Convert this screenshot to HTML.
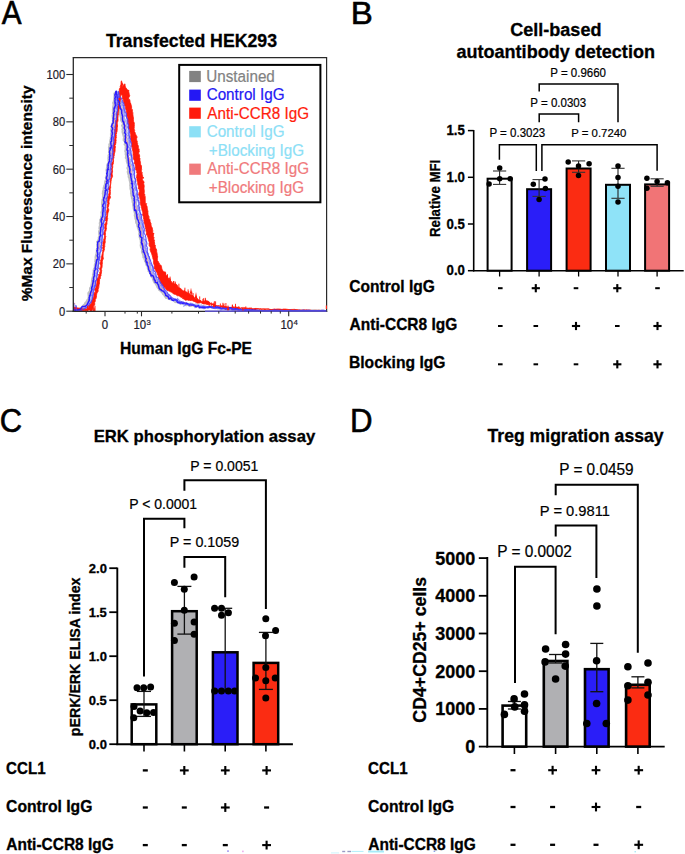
<!DOCTYPE html>
<html><head><meta charset="utf-8"><style>
html,body{margin:0;padding:0;background:#fff;}
body{width:685px;height:854px;overflow:hidden;}
svg{display:block;font-family:"Liberation Sans", sans-serif;}
</style></head><body>
<svg width="685" height="854" viewBox="0 0 685 854">
<rect width="685" height="854" fill="#fff"/>
<text transform="translate(1.84,23.6) scale(0.9166,1.000)" font-size="32.41" font-weight="normal" fill="#000" stroke="#000" stroke-width="0.6">A</text>
<text transform="translate(350.69,23.7) scale(1.0436,1.000)" font-size="31.69" font-weight="normal" fill="#000" stroke="#000" stroke-width="0.6">B</text>
<text transform="translate(-0.27,432) scale(0.9275,1.000)" font-size="33.37" font-weight="normal" fill="#000" stroke="#000" stroke-width="0.6">C</text>
<text transform="translate(349.94,431.5) scale(0.9636,1.000)" font-size="32.41" font-weight="normal" fill="#000" stroke="#000" stroke-width="0.6">D</text>
<text transform="translate(105.9,47.2) scale(1.0000,1.040)" font-size="17.71" font-weight="bold" fill="#000" stroke="#000" stroke-width="0.3">Transfected HEK293</text>
<defs><clipPath id="hc"><rect x="73.3" y="57" width="253.3" height="255"/></clipPath></defs><g clip-path="url(#hc)">
<polyline points="72.5,304.2 72.4,305.5 72.2,305.7 72.7,307.0 72.6,308.1 72.7,309.1 72.7,310.1 73.8,310.2 74.8,310.2 75.8,310.3 76.9,310.3 77.9,309.7 78.7,309.0 80.1,308.5 80.9,308.3 81.9,307.3 82.6,306.3 83.9,305.1 84.5,304.6 85.2,303.5 85.4,302.8 86.0,302.6 86.9,301.2 87.6,299.6 88.3,299.2 88.5,299.0 88.7,297.3 88.8,297.1 88.7,295.7 88.4,293.2 89.3,292.0 89.8,291.3 89.9,291.1 90.0,290.2 90.1,289.4 90.1,288.3 90.5,287.5 91.1,287.0 91.4,284.9 91.6,285.1 91.8,282.6 91.9,282.2 92.1,281.3 92.1,280.2 92.3,278.7 92.6,277.9 92.7,277.1 93.3,275.7 93.0,274.3 93.6,274.2 93.6,272.3 93.9,272.9 93.8,271.4 93.7,270.5 94.0,269.1 94.8,267.8 94.9,266.6 94.8,265.2 95.4,263.4 95.6,263.0 95.9,261.5 95.3,261.2 95.5,261.3 95.5,260.3 95.5,259.7 96.1,257.3 95.6,257.9 95.7,256.7 96.3,254.4 96.6,253.2 96.7,252.6 96.8,251.9 96.9,251.8 97.0,250.0 96.8,249.9 97.5,248.2 97.3,246.9 97.7,245.3 97.4,245.2 97.2,244.5 97.7,243.5 97.2,241.8 97.5,241.7 98.3,240.4 98.7,239.5 98.9,238.2 98.8,237.4 99.3,236.8 99.7,235.2 99.3,234.7 99.2,231.7 99.1,232.0 99.2,231.2 100.1,229.8 99.9,229.6 99.4,228.1 99.6,227.6 99.7,226.5 100.2,225.2 99.8,223.2 99.9,223.0 100.5,221.2 100.3,221.1 100.3,219.5 100.9,219.0 101.2,218.3 101.2,216.6 101.3,216.3 101.9,215.7 101.7,213.0 101.5,212.7 101.7,211.7 102.1,211.2 102.3,209.6 102.3,208.1 102.3,208.0 102.1,206.3 102.8,206.1 102.2,204.9 102.0,204.1 102.2,203.1 102.1,202.4 102.3,201.4 102.5,201.1 102.4,199.9 103.1,198.4 103.0,196.7 103.2,195.4 103.1,194.6 102.8,193.3 103.3,193.1 103.0,191.8 103.6,189.7 103.7,188.3 103.9,187.2 104.6,186.0 104.4,185.6 104.7,185.7 105.3,184.8 105.0,184.2 105.1,182.7 105.4,181.0 106.2,179.7 106.1,178.2 105.9,177.4 106.3,176.9 106.1,176.4 106.7,176.2 106.9,175.3 107.0,174.2 106.9,172.8 106.9,171.6 106.5,170.0 106.8,169.7 106.9,168.4 107.3,166.5 107.2,165.7 107.5,164.4 107.7,164.0 108.2,163.6 108.7,162.2 108.8,161.6 108.5,160.9 108.6,159.5 108.4,158.4 108.7,156.5 108.6,155.3 109.1,154.6 109.5,153.2 109.7,152.5 109.1,152.1 109.2,151.2 109.1,149.3 109.1,148.7 109.0,147.3 109.5,145.9 109.5,144.7 109.4,144.5 110.3,143.2 110.3,141.5 110.2,141.3 110.6,139.9 110.8,138.7 111.1,138.2 110.8,137.5 111.2,136.5 111.1,135.0 111.0,133.9 111.4,132.9 111.6,131.6 111.1,130.8 111.2,129.4 111.4,129.5 111.5,128.2 112.0,126.9 112.5,125.8 113.0,125.2 112.6,124.6 112.6,123.0 112.9,123.1 113.1,121.1 112.9,120.6 113.1,119.8 112.9,118.0 112.8,116.5 112.6,116.0 112.8,115.0 113.1,112.6 113.4,111.0 113.0,111.6 113.0,110.4 112.9,109.5 113.2,109.4 113.1,107.8 113.1,107.2 113.4,105.8 113.7,104.3 113.2,102.9 113.9,101.6 114.0,101.0 114.0,100.1 114.3,99.7 114.4,98.5 114.4,97.4 114.6,95.6 114.6,94.3 114.5,93.5 115.0,92.9 115.6,92.6 115.3,94.1 115.4,94.8 115.6,95.8 115.6,97.0 116.2,97.0 116.5,99.5 117.3,99.6 117.4,100.6 117.2,101.6 117.8,102.7 118.1,104.0 118.2,104.7 118.8,106.0 119.0,106.9 118.9,107.9 119.3,107.8 119.2,109.3 119.3,110.8 120.0,111.5 119.9,112.1 120.1,112.4 119.8,113.7 120.4,115.4 120.7,116.4 121.0,117.4 121.1,118.1 121.2,119.6 121.2,120.6 121.8,121.3 122.8,123.0 123.1,123.2 123.1,123.3 123.0,124.7 122.1,125.4 122.4,126.2 123.1,127.6 122.4,129.3 122.9,130.7 122.6,131.2 122.7,132.6 123.0,133.4 123.4,135.1 123.7,135.9 123.8,136.5 124.2,137.6 124.2,138.1 123.8,138.8 123.8,140.5 124.7,141.2 125.1,140.8 125.1,143.4 124.7,144.4 125.3,144.9 125.8,146.4 125.6,147.8 125.7,148.7 126.0,149.1 125.5,150.1 125.3,151.2 125.8,152.2 125.8,153.7 125.7,154.3 126.2,156.0 126.2,156.1 125.8,158.0 126.0,157.8 126.6,158.8 126.9,159.7 126.8,161.1 127.3,162.6 127.6,163.6 127.9,164.0 128.0,165.3 128.0,165.7 128.1,166.5 127.4,168.1 128.0,169.4 128.3,170.6 127.8,171.7 128.2,171.7 127.8,172.1 128.2,173.7 128.8,175.1 128.7,176.6 129.1,177.9 129.5,177.8 129.6,179.0 129.6,179.9 129.9,181.1 130.3,182.6 130.4,184.1 131.1,183.8 130.2,185.2 130.6,187.1 130.6,187.8 130.4,187.8 130.7,189.7 131.0,189.7 131.1,191.8 131.5,192.9 131.0,193.0 131.3,194.2 131.6,196.1 132.0,197.3 132.0,198.6 132.6,198.6 132.9,199.8 132.6,200.1 132.7,202.0 133.1,203.1 133.5,204.3 133.1,204.8 133.5,206.5 133.7,206.8 133.8,207.7 133.6,207.6 133.7,208.5 134.3,210.5 134.6,211.6 134.8,212.6 135.1,213.7 134.8,215.5 135.3,217.0 135.4,217.5 135.5,218.9 136.2,218.9 136.1,220.4 136.1,221.1 136.2,222.7 136.7,223.3 137.2,224.4 137.3,225.1 137.4,226.0 138.0,227.3 137.9,228.0 138.2,227.8 138.5,229.1 139.1,231.3 139.5,231.4 139.5,232.5 139.3,234.1 139.3,234.8 139.6,233.9 140.1,235.6 139.6,236.9 140.0,237.8 140.4,239.2 140.8,239.7 140.8,241.4 141.0,243.1 140.9,245.4 140.7,245.0 141.0,246.9 141.0,247.3 141.4,247.1 141.7,248.2 142.3,248.9 142.1,250.7 142.0,252.1 142.4,252.9 142.9,253.7 143.0,254.7 143.5,255.7 143.4,257.3 143.9,257.7 144.8,258.5 144.6,259.6 145.1,259.8 145.0,261.3 146.0,261.9 146.0,263.2 146.5,265.0 146.8,265.2 147.5,266.0 147.8,267.1 147.8,267.1 147.9,268.6 148.8,269.7 148.6,271.1 149.7,271.4 149.5,272.2 150.2,272.3 150.5,273.1 150.8,274.6 151.7,276.3 151.7,276.9 152.6,276.4 153.0,278.4 152.8,278.7 153.6,280.7 154.0,281.5 154.6,282.7 155.5,283.0 155.6,283.6 156.0,284.2 157.0,285.8 157.5,287.2 158.3,288.1 158.9,288.2 158.9,289.6 159.6,290.1 160.4,290.7 161.7,291.9 162.0,292.0 162.6,293.0 163.2,294.2 164.2,294.9 164.9,296.4 165.3,296.7 166.1,297.9 166.9,297.7 167.7,296.6 168.4,298.7 169.3,298.9 170.2,299.1 171.1,299.6 172.0,299.2 173.3,300.0 174.2,300.7 175.3,301.9 175.7,302.1 176.5,301.7 177.1,302.2 178.5,302.2 180.1,303.4 180.6,303.1 181.8,302.9 182.9,303.3 184.1,303.9 185.3,303.9 185.7,304.2 186.3,305.2 187.5,304.8 188.1,305.1 189.8,305.9 191.0,305.7 192.0,305.3 193.0,304.7 193.5,305.8 194.9,305.7 195.6,306.0 196.6,306.4 197.8,306.2 198.8,305.9 200.1,306.2 201.1,305.8 201.8,306.6 202.6,306.4 203.4,306.2 204.2,306.5 205.4,307.0 206.6,307.2 207.3,307.2 208.7,306.9 209.5,306.7 210.8,307.0 211.7,307.2 212.8,307.3 213.7,307.9 214.8,308.1 215.7,307.7 217.0,307.7 217.7,308.4 218.8,308.4 219.8,308.2 220.7,307.3 221.6,307.4 222.7,307.8 223.9,308.3 224.8,307.9 225.6,308.7 226.7,308.5 227.8,308.6 229.0,308.7 229.9,308.7 230.8,309.0 231.7,309.1 232.7,309.2 233.6,309.5 234.7,309.3 235.6,309.1 236.5,309.3 237.7,309.4 238.8,309.0 239.6,309.1 240.5,309.4 241.7,309.3 242.8,309.3 243.6,309.4 244.7,309.7 245.8,309.8 246.8,310.0 247.9,309.9 248.7,310.1 249.6,309.9 250.7,309.8 251.6,309.9 252.7,310.1 253.8,310.2 254.7,310.1 255.7,310.5 256.8,310.7 257.7,310.6 258.6,310.7 259.7,310.6 260.8,310.6 261.7,310.5 262.7,310.6 263.7,310.2 264.7,310.5 265.8,310.6 266.8,310.5 267.7,310.5 268.7,310.5 269.7,310.6 270.8,310.5 271.8,310.6 272.8,310.7 273.7,310.6 274.7,310.6 275.7,310.5 276.8,310.6 277.8,310.6 278.8,310.7 279.7,310.8 280.8,310.7 281.7,310.7 282.7,310.7 283.7,310.6 284.7,310.6 285.8,310.6 286.7,310.7 287.7,310.8 288.7,310.6 289.7,310.8 290.8,310.7 291.8,310.8 292.7,310.8 293.7,310.8 294.8,310.7 295.8,310.6 296.8,310.8 297.8,310.7 298.8,310.8 299.7,310.7 300.7,310.6 301.7,310.8 302.7,310.8 303.6,310.7 304.7,310.8 305.7,310.8 306.7,310.9 307.8,310.8 308.6,310.7 309.7,310.6 310.7,310.8 311.7,310.7 312.8,310.7 313.8,310.6 314.7,310.6 315.7,310.7 316.6,310.6 317.7,310.9 318.7,310.6 319.7,310.7 320.7,310.8 321.8,310.8 322.6,310.8 323.7,310.7 324.8,310.7" fill="none" stroke="#c0c0c4" stroke-width="2.2" stroke-linejoin="round" opacity="1.0"/>
<polyline points="72.9,303.7 72.9,304.9 73.4,306.3 73.6,307.1 73.9,308.4 74.2,309.5 74.0,310.4 75.1,310.3 76.1,310.3 77.0,310.3 78.0,310.1 79.0,309.6 80.3,309.1 81.1,308.7 82.4,308.3 83.2,307.1 84.0,306.4 85.0,305.5 85.7,305.0 86.3,303.8 86.6,304.2 87.6,303.2 88.7,302.4 88.8,301.0 89.1,299.7 89.6,299.1 89.7,299.2 89.7,298.4 89.6,297.2 90.8,296.3 90.8,295.3 91.0,293.7 91.0,292.0 91.1,291.2 91.1,290.0 91.7,289.0 92.1,287.4 92.3,285.3 93.0,284.6 92.9,282.6 93.0,283.2 93.3,281.7 93.6,281.6 93.7,281.0 93.6,279.3 93.9,278.3 94.0,277.2 94.0,276.6 94.0,276.0 94.2,273.8 94.7,271.6 94.7,269.1 94.5,269.6 95.1,269.3 95.3,267.6 95.3,266.4 95.3,266.8 95.8,265.5 96.2,264.2 95.9,264.0 96.5,263.3 96.8,261.6 96.7,260.1 96.8,259.4 97.2,258.8 97.1,258.6 96.6,256.6 97.2,255.8 97.3,255.2 97.3,253.6 97.2,253.4 97.0,252.6 97.7,251.0 97.8,250.2 98.3,248.3 98.5,247.5 98.2,246.9 98.1,246.3 98.2,246.0 98.4,243.2 99.1,242.8 98.9,242.5 99.0,241.3 99.2,239.5 99.0,239.0 99.6,236.8 99.8,236.9 100.2,236.0 100.2,235.3 100.1,233.6 100.2,232.3 100.4,231.6 100.4,230.5 100.1,229.0 99.9,228.1 100.7,227.4 101.0,227.4 100.8,225.6 101.7,224.0 101.0,223.3 101.7,222.2 101.9,221.8 101.9,219.2 102.3,219.4 101.9,219.4 102.2,218.7 102.4,216.7 101.7,215.9 102.1,215.5 102.3,213.6 102.6,212.3 102.3,212.3 102.7,212.0 102.4,210.4 102.4,209.1 103.5,208.3 103.0,207.6 102.7,206.4 102.8,205.1 103.4,203.9 103.8,203.3 104.0,201.8 104.1,201.5 104.4,200.6 104.4,200.0 104.1,199.0 104.3,197.2 104.4,196.3 104.3,195.2 104.4,193.9 104.4,192.3 105.0,190.9 105.2,191.1 105.5,189.6 105.7,188.4 105.8,187.3 105.8,186.0 106.1,184.8 106.3,184.5 106.5,183.6 107.2,181.9 106.4,181.2 106.5,180.1 106.8,179.4 106.6,178.4 107.0,177.8 107.9,176.6 108.4,176.0 108.1,174.4 107.7,173.4 108.3,172.5 108.3,171.9 108.2,170.8 108.2,169.6 108.6,167.8 108.4,166.7 107.8,165.9 108.4,166.1 108.8,163.8 109.5,162.4 109.5,161.0 109.5,160.4 109.6,159.7 109.4,158.4 110.1,157.5 109.8,156.2 109.0,156.9 109.5,154.6 110.3,153.9 110.4,153.0 110.4,152.1 110.8,150.6 111.1,149.5 110.7,148.0 110.4,145.5 110.9,146.0 110.7,143.9 110.7,144.0 110.9,143.6 111.0,142.4 111.3,141.5 111.7,140.6 111.3,140.1 112.4,139.2 112.8,138.3 111.8,137.0 111.4,135.5 111.1,134.7 111.7,133.3 112.0,131.6 112.6,131.3 112.6,130.4 112.4,129.7 113.5,128.4 113.4,127.5 113.5,125.7 113.4,125.6 113.2,124.0 113.5,123.3 114.1,121.6 113.9,121.3 114.1,120.5 114.4,119.5 114.0,117.9 114.1,117.3 114.1,115.9 114.3,114.2 114.3,113.9 114.4,112.4 114.6,111.5 114.5,109.5 114.4,109.2 114.6,108.4 114.1,107.5 114.4,106.3 114.6,105.2 114.7,103.6 115.0,103.4 115.0,102.6 114.5,101.1 115.2,100.0 115.2,99.7 115.9,98.2 115.6,97.7 115.4,96.9 115.1,95.4 115.7,93.9 115.9,92.2 116.3,91.9 115.8,92.7 116.4,93.9 116.9,95.0 117.2,95.2 117.4,96.7 117.7,97.8 118.2,98.6 118.3,100.3 118.6,100.9 119.0,101.5 118.9,103.5 119.9,103.8 120.7,104.4 120.2,105.8 120.3,107.4 120.7,107.0 121.1,109.0 121.2,111.0 121.8,112.2 122.0,113.0 121.7,113.1 122.3,114.6 122.5,114.9 123.0,116.6 123.1,117.1 123.4,117.8 124.0,118.5 123.2,119.6 123.6,121.2 124.0,121.9 123.9,123.2 124.1,123.3 124.0,125.5 124.3,126.3 124.5,127.8 124.3,128.6 124.7,130.1 125.0,130.8 125.5,130.9 125.4,133.0 125.2,133.8 125.0,134.2 125.5,134.8 126.2,136.7 125.8,137.4 126.1,138.1 126.4,139.5 126.4,140.1 126.7,141.6 127.2,142.3 127.3,143.5 127.1,145.1 127.9,145.9 127.6,147.3 127.2,148.3 127.1,149.3 127.3,150.2 127.1,151.9 127.3,151.8 127.7,152.8 127.6,153.0 127.4,154.8 127.9,155.8 128.3,157.0 128.7,157.5 128.4,157.8 128.4,159.5 129.0,160.5 129.6,161.4 129.4,162.4 129.2,164.0 129.1,165.2 129.6,165.2 129.8,165.3 129.7,167.4 129.7,167.1 129.9,167.9 130.5,169.5 130.7,171.2 130.6,171.9 130.5,173.6 130.9,174.5 130.7,175.3 130.9,177.5 131.3,177.4 131.5,178.1 131.6,179.9 131.9,181.3 132.1,181.9 132.5,182.5 132.1,182.8 131.8,183.4 132.0,185.0 132.1,186.1 132.4,187.9 132.6,188.6 133.2,190.5 132.9,191.1 132.9,191.0 132.3,192.4 133.1,193.1 132.9,193.9 133.1,195.2 133.6,196.6 134.3,197.2 134.4,198.0 134.7,199.5 134.4,199.6 134.5,201.1 134.7,202.7 135.6,203.1 135.7,204.1 135.8,206.3 135.9,207.0 136.2,208.4 136.4,209.2 136.3,210.3 136.6,210.7 136.6,210.4 136.7,212.7 137.3,213.8 137.2,215.9 137.6,217.3 137.6,217.7 138.1,218.3 138.5,219.9 138.5,220.1 139.0,220.5 138.8,220.7 139.2,222.5 139.3,223.4 139.6,225.4 139.5,226.7 139.7,227.2 140.4,227.8 140.4,228.7 140.3,230.1 141.0,231.2 141.0,233.0 141.0,234.3 141.1,235.2 142.0,234.1 141.9,235.1 141.7,236.5 141.7,237.4 142.0,238.1 142.4,239.0 142.6,240.4 142.8,242.3 142.3,243.4 142.6,243.9 142.9,245.6 143.4,246.4 142.9,246.8 143.2,248.0 143.1,249.2 143.5,249.9 143.5,250.7 144.1,252.0 144.7,253.0 144.7,253.8 145.5,255.3 145.7,256.3 146.1,256.2 146.0,257.6 146.4,258.6 146.8,258.1 146.6,259.7 147.2,260.9 147.5,262.6 148.8,263.8 148.6,264.2 148.5,265.1 149.1,266.0 149.6,266.4 149.6,267.6 149.6,267.9 150.2,269.1 150.6,270.1 151.0,271.9 151.3,272.7 151.9,274.1 151.6,275.2 152.6,275.5 153.7,276.6 154.1,277.4 154.5,278.6 154.9,278.8 155.9,280.6 156.2,280.3 156.9,281.4 157.7,282.8 157.9,282.3 158.3,283.8 158.6,284.8 158.8,286.0 159.4,286.5 159.9,287.3 160.5,289.1 160.8,290.2 161.6,291.0 162.5,291.3 162.8,291.5 163.6,293.1 164.5,294.3 165.8,294.3 166.1,294.8 166.6,295.7 167.1,297.0 168.1,297.9 168.9,299.0 169.9,299.1 170.9,299.6 171.2,298.7 172.2,299.4 173.5,300.0 174.1,300.4 175.4,300.7 176.0,300.9 177.1,301.8 178.3,301.8 179.5,301.8 179.9,301.9 180.7,303.4 181.2,304.0 182.1,303.9 183.6,303.8 184.7,304.6 186.0,304.4 186.8,304.9 187.4,304.5 188.9,303.5 189.4,305.0 190.4,304.3 192.0,304.6 192.6,304.6 193.5,305.3 194.4,305.4 195.4,305.8 196.6,306.0 197.9,306.4 198.4,306.6 199.7,307.1 200.8,307.0 201.8,306.5 202.7,307.1 203.5,307.4 204.7,306.8 205.6,306.4 206.6,306.6 207.6,306.6 208.9,306.9 209.8,307.1 210.5,307.4 212.1,306.4 212.9,307.0 213.7,306.4 214.7,307.0 215.5,307.4 216.7,307.1 217.5,307.7 218.7,307.8 219.4,307.7 220.6,308.0 221.6,308.4 222.6,308.3 223.7,308.6 224.7,308.7 225.7,308.6 226.7,308.5 227.8,308.7 228.8,309.1 229.5,309.1 230.7,309.0 231.6,308.8 232.9,308.4 233.9,308.4 234.8,308.7 235.8,309.0 236.7,309.1 237.7,309.2 238.7,308.9 239.5,309.3 240.6,308.9 241.7,309.1 242.7,309.4 243.7,309.6 244.6,309.4 245.5,309.4 246.7,309.5 247.6,309.9 248.6,309.7 249.6,309.9 250.6,309.9 251.6,310.0 252.6,310.1 253.6,310.3 254.7,310.3 255.7,310.4 256.7,310.5 257.7,310.5 258.6,310.7 259.6,310.6 260.6,310.8 261.7,310.6 262.6,310.6 263.6,310.5 264.6,310.6 265.6,310.5 266.7,310.6 267.6,310.5 268.7,310.7 269.6,310.6 270.7,310.6 271.8,310.8 272.7,310.9 273.8,310.7 274.5,310.7 275.6,310.5 276.7,310.5 277.7,310.5 278.6,310.6 279.7,310.5 280.7,310.4 281.5,310.5 282.6,310.6 283.7,310.7 284.7,310.6 285.6,310.8 286.6,310.7 287.7,310.8 288.6,310.7 289.6,310.7 290.6,310.8 291.6,310.7 292.7,310.8 293.7,310.8 294.6,310.7 295.7,310.7 296.6,310.8 297.7,310.8 298.7,310.7 299.5,310.7 300.6,310.7 301.6,310.9 302.7,310.7 303.7,310.7 304.6,310.7 305.6,310.7 306.7,310.7 307.6,310.7 308.7,310.8 309.6,310.8 310.7,310.7 311.7,310.8 312.7,310.9 313.6,310.7 314.6,310.7 315.6,310.8 316.6,310.9 317.7,310.8 318.6,310.9 319.6,310.6 320.6,310.7 321.6,310.9 322.6,310.9 323.6,310.8 324.6,310.7 325.6,310.9 326.6,310.8" fill="none" stroke="#c8c8cc" stroke-width="1.4" stroke-linejoin="round" opacity="1.0"/>
<polyline points="74.6,303.1 74.6,303.8 74.3,305.9 74.2,306.9 74.2,308.3 74.5,309.3 74.6,310.3 75.6,310.4 76.6,310.3 77.7,310.3 78.5,310.2 79.7,309.9 80.7,308.8 81.8,308.2 82.8,307.8 83.6,306.8 84.0,306.3 85.2,305.4 86.4,304.5 87.4,303.6 87.9,303.5 88.7,303.5 89.3,302.0 89.7,300.5 89.6,299.1 90.1,299.0 90.2,297.8 90.4,295.7 90.7,295.1 91.0,294.7 91.5,294.1 91.7,293.2 91.5,291.7 92.1,291.3 92.4,289.9 92.8,288.8 93.0,287.9 93.0,286.8 93.2,285.7 93.0,284.0 93.4,283.3 93.7,281.5 93.9,279.9 93.9,279.6 94.2,279.1 94.6,277.9 94.5,277.3 95.0,276.1 95.1,275.1 95.4,273.9 95.9,273.2 96.5,272.0 96.3,271.5 95.8,269.8 96.0,268.5 96.1,267.1 96.6,267.0 96.8,266.2 96.8,265.6 96.7,264.9 97.5,262.8 97.0,262.1 97.4,261.2 97.4,260.3 97.2,259.5 97.3,258.0 97.5,257.1 97.9,256.3 97.9,255.0 97.8,254.3 97.9,253.1 97.7,252.8 98.1,251.1 98.2,250.4 98.4,249.3 99.2,248.6 99.5,246.1 99.5,244.8 99.2,244.8 99.3,244.5 100.0,243.0 100.0,241.7 99.7,240.9 99.6,239.0 99.9,238.3 100.3,237.6 100.5,236.9 100.9,235.9 100.7,235.3 100.6,233.7 101.1,233.2 101.1,231.9 101.1,230.6 100.8,230.0 101.6,229.0 101.8,227.5 101.8,226.5 101.5,225.8 102.1,224.6 102.3,223.7 102.0,222.2 102.2,222.2 101.9,220.0 102.5,219.5 102.9,218.3 103.5,217.8 102.7,216.2 103.2,216.1 103.3,215.8 103.4,215.2 103.1,213.3 102.9,211.9 103.3,210.2 103.7,209.0 103.3,208.6 103.5,208.2 103.7,206.8 103.9,205.4 104.2,203.8 104.3,203.8 104.3,203.0 104.7,201.9 104.4,201.3 104.4,200.8 104.0,199.1 104.5,197.7 104.9,196.2 105.1,195.4 104.9,195.1 105.3,193.4 105.4,193.2 105.4,193.3 105.7,191.2 105.7,190.3 106.0,189.6 106.6,187.6 106.0,186.0 106.3,185.7 106.3,184.4 106.5,183.4 106.5,182.3 106.4,182.5 106.3,181.3 106.8,179.4 107.6,178.4 107.5,178.4 107.5,177.6 108.0,176.2 108.2,175.0 108.3,174.1 107.9,173.9 108.2,171.9 108.5,171.8 108.6,171.1 108.5,170.5 108.9,168.9 108.9,167.6 109.1,166.5 109.2,165.6 109.6,164.3 109.2,163.3 109.0,161.9 109.6,160.1 110.2,159.4 110.1,158.2 110.0,157.0 111.1,156.1 110.6,155.5 110.8,154.5 111.3,154.3 111.3,152.7 111.2,151.5 111.1,150.6 111.1,149.3 111.2,148.1 111.4,147.7 111.7,146.9 111.9,146.5 111.4,144.7 111.9,143.8 112.1,142.6 112.3,141.4 111.9,139.5 112.1,138.2 112.4,137.7 112.3,136.6 112.5,136.2 112.2,135.6 112.3,134.0 112.8,131.5 112.9,130.4 113.5,130.2 113.6,130.1 113.2,128.3 113.4,127.5 113.8,125.8 114.1,125.3 113.8,124.0 114.7,122.9 114.3,122.3 114.5,120.8 114.7,119.8 114.2,119.5 114.2,118.3 114.3,118.4 114.3,117.4 113.8,115.7 114.3,113.7 114.3,113.2 114.3,112.3 114.5,111.3 114.5,110.0 114.3,108.5 114.4,107.3 114.7,106.3 115.1,104.0 115.3,104.4 115.4,104.5 115.2,103.4 115.8,102.3 116.0,101.7 116.3,100.6 115.9,98.9 116.1,97.8 116.8,96.7 116.3,94.9 116.2,93.9 116.4,93.6 116.7,93.3 116.0,92.7 116.1,91.4 116.7,92.8 117.7,94.0 118.2,94.8 118.1,95.4 117.8,96.1 118.1,96.3 118.9,97.7 119.3,99.2 119.2,99.6 119.9,101.2 120.0,101.6 120.1,103.5 120.8,104.1 121.3,104.7 121.4,105.4 121.2,106.1 120.8,106.9 121.5,108.4 122.5,109.7 122.9,111.1 122.7,112.3 123.0,113.3 123.8,113.9 123.6,115.6 123.9,115.3 124.1,116.5 124.3,117.9 124.6,119.0 124.5,119.9 124.3,120.9 124.8,122.3 124.4,124.1 124.5,124.5 125.4,125.0 125.6,126.5 125.6,127.4 126.0,128.1 125.9,129.6 125.7,130.5 125.9,130.0 126.0,131.4 126.5,131.6 126.1,133.0 126.2,134.1 126.0,135.7 126.1,136.7 126.5,137.4 127.1,138.2 127.3,139.5 127.0,140.4 127.5,141.6 127.5,142.1 127.6,143.1 127.4,144.0 126.8,145.5 126.8,147.3 127.1,148.6 127.9,148.8 128.0,150.0 128.7,151.8 128.2,151.9 128.5,152.6 128.4,153.5 128.5,154.8 128.3,155.4 128.1,156.9 129.0,157.4 129.4,159.4 129.4,161.0 129.6,161.0 129.4,162.0 130.2,161.9 130.3,164.3 130.4,165.8 130.7,165.9 130.9,167.4 130.7,168.4 130.7,168.2 130.5,169.0 131.0,171.1 131.2,171.7 131.0,172.1 131.2,174.1 132.0,175.9 132.2,175.5 132.3,176.7 132.1,177.9 131.7,178.8 132.7,180.1 132.5,181.2 132.5,181.6 132.7,182.6 132.6,183.3 132.5,183.9 133.0,185.4 133.6,187.2 134.3,187.5 133.8,188.4 133.8,189.4 133.9,190.7 133.9,190.9 134.4,193.1 134.3,193.5 134.8,195.0 135.2,196.6 134.7,198.0 134.8,199.1 134.9,199.5 134.7,199.9 135.0,201.1 135.1,202.3 135.6,202.8 135.6,203.5 136.3,203.5 136.0,205.6 136.3,207.2 136.5,208.0 136.6,208.7 136.4,209.3 136.6,211.2 136.7,212.2 137.2,213.6 137.1,214.0 137.3,214.8 138.3,216.9 138.5,217.2 138.8,218.3 139.2,219.2 139.3,218.6 139.2,220.6 139.4,222.2 139.6,223.7 139.8,224.8 140.3,224.7 140.7,226.6 140.4,227.0 140.6,226.8 141.2,228.0 141.5,229.0 141.4,230.3 141.7,230.9 141.0,233.0 140.9,233.9 142.0,235.3 141.6,236.1 142.1,237.0 142.6,237.7 143.1,238.8 143.5,239.2 143.4,240.1 143.2,241.0 142.8,241.9 143.2,243.9 143.8,244.8 143.8,246.0 144.2,246.9 144.2,247.9 144.0,249.1 144.1,249.8 144.3,251.5 144.8,251.7 145.5,252.1 146.0,253.3 145.3,254.7 145.5,255.3 146.3,256.5 146.9,256.9 147.1,258.2 147.7,259.4 147.9,260.3 147.8,260.7 148.2,263.0 148.4,262.7 148.8,264.3 148.9,264.7 149.3,265.9 149.3,266.7 149.6,267.0 150.4,269.1 150.9,270.4 151.1,271.6 151.7,271.6 151.9,273.4 152.5,274.0 153.3,275.0 153.4,275.3 153.3,275.1 154.1,276.4 154.7,277.3 155.6,278.9 155.9,279.8 156.2,281.2 157.0,282.2 157.8,283.2 158.2,283.7 158.8,284.4 159.4,284.0 159.9,286.1 160.6,287.3 160.4,287.1 161.1,287.9 162.3,288.6 162.7,289.2 163.2,291.2 163.9,291.4 164.9,292.7 165.7,293.8 165.7,294.5 166.9,294.0 167.3,295.4 167.8,297.1 168.6,297.8 169.6,297.5 170.3,298.8 170.9,299.4 172.1,299.0 172.8,299.1 173.5,299.8 174.4,299.5 175.6,299.8 176.7,300.4 177.3,301.0 178.3,302.3 179.8,302.3 180.7,302.3 181.8,302.1 182.4,302.4 183.2,302.4 184.1,303.0 185.5,302.5 186.3,303.1 187.2,303.9 187.7,303.9 188.9,304.3 190.0,305.4 191.2,305.7 191.5,305.5 193.1,305.5 194.0,305.1 195.3,305.6 196.3,305.9 197.4,306.4 198.4,306.6 199.1,306.1 199.7,306.9 200.9,306.7 201.6,306.2 203.2,306.7 204.1,306.6 205.2,306.4 206.1,306.3 207.1,307.0 208.1,307.6 209.1,306.9 210.2,306.0 211.2,306.2 212.0,307.0 213.2,307.0 214.3,307.1 215.2,307.2 216.5,307.8 217.5,307.6 218.3,307.5 219.3,307.5 220.0,307.6 220.9,307.7 221.9,307.8 222.7,308.5 224.1,308.5 225.1,308.4 225.9,308.5 227.3,308.0 228.0,308.2 229.2,308.2 230.2,308.5 231.4,308.6 232.2,308.8 233.2,308.7 234.2,309.0 235.2,309.0 236.2,308.8 237.1,308.6 238.2,308.9 239.3,309.2 240.5,309.2 241.3,309.4 242.2,309.4 243.2,309.3 244.3,309.1 245.3,309.7 246.2,309.9 247.3,309.8 248.2,310.0 249.3,309.8 250.3,310.2 251.3,310.0 252.3,310.0 253.2,310.1 254.2,310.1 255.1,310.2 256.2,310.2 257.2,310.3 258.1,310.4 259.1,310.4 260.2,310.6 261.2,310.2 262.2,310.3 263.3,310.3 264.2,310.5 265.1,310.4 266.1,310.5 267.2,310.6 268.3,310.5 269.2,310.6 270.2,310.7 271.2,310.5 272.1,310.5 273.1,310.5 274.3,310.6 275.3,310.7 276.2,310.7 277.3,310.7 278.2,310.8 279.2,310.6 280.3,310.7 281.2,310.6 282.2,310.7 283.2,310.6 284.2,310.6 285.2,310.7 286.2,310.8 287.2,310.7 288.1,310.4 289.1,310.7 290.2,310.8 291.2,310.7 292.1,310.7 293.2,310.7 294.2,310.5 295.3,310.6 296.3,310.6 297.2,310.6 298.1,310.7 299.1,310.5 300.2,310.8 301.2,310.8 302.1,310.8 303.1,310.8 304.2,310.9 305.2,310.8 306.2,310.7 307.3,310.7 308.2,310.5 309.2,310.8 310.2,310.9 311.2,310.8 312.2,310.8 313.2,310.8 314.1,310.7 315.1,310.8 316.2,310.9 317.1,310.8 318.1,310.8 319.1,310.8 320.1,310.8 321.2,310.7 322.3,310.8 323.3,310.8 324.3,310.9 325.2,310.8 326.2,310.9 327.3,310.9" fill="none" stroke="#f0a0a4" stroke-width="1.2" stroke-linejoin="round" opacity="1.0"/>
<polyline points="74.7,304.4 74.4,304.5 75.3,305.8 75.3,308.5 75.4,308.5 75.5,309.8 75.3,310.6 76.5,310.6 77.5,310.4 78.3,310.4 79.4,309.9 80.5,309.3 81.5,308.8 82.6,309.2 83.4,308.1 84.2,307.6 84.6,306.1 86.4,305.1 87.0,304.3 88.6,303.5 88.7,302.5 88.9,301.9 90.4,299.7 90.8,299.2 90.6,300.2 91.4,297.7 90.9,298.5 89.7,297.1 91.3,295.9 91.2,295.4 92.6,294.4 93.4,292.6 92.6,291.9 92.4,290.2 93.3,289.1 93.4,287.8 94.1,287.0 94.4,286.3 94.9,285.5 95.1,284.8 94.6,283.0 94.7,282.0 94.3,279.4 94.1,279.6 94.5,279.3 94.7,277.9 95.2,276.8 95.5,275.3 95.9,274.1 95.5,273.9 95.8,273.5 95.4,272.7 95.7,272.2 96.0,270.7 96.2,269.2 96.8,267.7 97.2,265.8 97.2,265.7 97.4,264.3 97.1,264.0 97.6,260.6 98.7,259.3 99.3,259.1 98.7,257.7 98.1,257.8 98.3,257.6 98.2,256.0 98.1,254.0 98.9,251.7 99.1,252.9 98.6,252.3 98.6,251.2 99.3,250.0 99.2,249.9 99.5,248.5 100.3,247.2 100.7,246.6 100.6,246.0 99.9,244.9 100.1,243.6 100.3,243.0 100.5,241.8 100.4,241.5 100.3,239.5 100.7,239.3 100.2,237.8 100.9,237.1 100.5,235.3 101.2,233.7 101.0,233.9 100.8,233.5 101.3,233.1 102.0,231.9 102.8,229.3 103.1,227.9 102.5,227.5 102.0,225.5 101.9,224.2 102.7,224.4 102.8,223.5 103.5,223.6 104.1,222.5 104.0,220.4 104.1,219.4 104.5,219.0 103.9,217.7 103.9,216.7 103.0,215.3 103.6,215.2 103.8,213.4 103.6,213.1 104.3,212.5 103.6,211.9 103.7,209.3 103.6,208.6 104.3,207.5 104.5,205.2 104.0,205.5 104.4,205.2 104.6,204.6 105.2,203.1 104.5,202.8 104.8,200.8 104.9,200.2 104.9,200.2 105.8,198.6 105.0,197.6 105.0,196.0 105.8,194.4 106.4,193.5 106.4,193.9 107.2,192.1 107.0,191.6 106.6,188.9 106.6,189.9 106.1,189.0 107.2,188.2 106.8,187.4 107.4,185.7 107.1,184.4 107.8,183.0 108.0,182.4 108.6,182.2 109.2,181.6 108.8,178.6 108.3,176.9 108.4,177.7 108.3,175.6 108.2,174.9 108.3,173.1 108.4,171.8 109.3,170.7 109.6,170.2 109.5,168.6 109.3,167.6 109.6,167.5 109.8,165.8 109.7,165.7 110.1,164.6 110.3,164.9 110.2,163.9 110.5,161.7 110.9,161.0 111.5,160.6 111.4,159.5 111.3,156.7 111.1,155.9 111.4,156.0 111.6,155.3 112.4,154.1 112.5,152.5 111.6,150.9 111.6,149.6 111.3,149.0 112.5,148.2 111.8,147.2 112.3,145.9 112.1,144.4 113.2,143.4 113.1,140.9 113.0,141.3 113.3,140.4 113.1,139.3 112.3,137.6 112.8,136.6 113.8,135.7 113.7,134.4 113.8,134.2 114.0,134.2 113.5,132.9 113.6,132.6 113.6,131.4 113.8,129.4 113.5,128.4 114.3,127.5 114.7,127.2 114.7,126.4 114.8,125.1 115.1,124.5 114.6,123.3 115.3,122.1 116.3,121.1 116.1,120.3 115.4,118.4 116.0,117.8 115.8,115.8 115.5,115.6 115.7,113.5 116.2,113.5 115.9,112.1 115.8,109.8 116.0,109.2 115.1,108.8 115.6,107.9 115.0,105.9 115.3,106.8 115.4,105.8 116.0,104.2 116.1,101.7 116.6,101.1 116.6,101.8 116.6,100.8 116.1,98.7 116.2,97.9 117.0,97.1 116.9,95.7 117.4,94.0 117.6,92.9 117.4,91.8 117.8,91.7 118.1,91.4 118.6,92.7 118.6,93.5 118.5,94.2 119.0,95.0 118.4,96.6 119.1,96.4 119.6,98.0 120.0,99.1 120.6,101.5 120.5,101.9 120.5,101.7 121.4,102.4 121.6,103.8 121.3,104.2 121.5,105.4 122.5,107.0 123.3,108.4 122.8,109.7 123.3,111.0 123.4,112.2 123.8,113.0 124.0,112.0 123.6,112.4 123.4,115.1 124.7,115.8 123.7,118.3 124.3,120.2 125.5,120.8 125.0,119.1 125.4,121.3 125.7,121.0 126.2,122.8 126.5,124.1 126.2,123.2 126.7,124.6 126.6,127.0 126.3,127.8 126.6,129.7 127.0,129.8 127.1,130.8 126.7,131.7 127.4,133.0 126.3,134.4 127.1,135.2 127.9,136.2 128.5,137.4 128.2,138.7 127.9,138.7 127.7,139.1 128.2,140.0 128.4,140.2 128.8,141.3 128.8,143.3 129.6,143.7 128.8,143.9 128.6,145.5 129.0,147.7 129.7,148.8 129.3,150.5 128.4,151.8 128.8,153.2 129.8,152.5 129.8,153.6 129.4,154.6 129.6,154.2 129.8,155.5 131.0,156.1 131.2,159.6 130.5,161.2 130.6,163.3 130.7,163.8 131.3,164.3 131.6,164.9 132.1,165.9 132.2,165.6 132.4,166.8 132.5,168.1 132.3,169.4 132.5,170.1 133.1,173.1 132.7,171.0 132.9,172.9 133.0,173.8 132.6,174.7 131.9,177.2 132.8,177.9 132.5,179.7 133.4,181.5 133.9,181.2 134.3,181.3 134.1,182.3 134.1,181.9 133.6,183.6 133.2,184.5 133.0,184.8 134.3,188.1 134.7,189.0 135.9,190.2 135.6,188.4 135.8,188.0 134.8,190.3 134.7,192.0 134.9,193.1 135.1,195.0 134.5,194.8 135.8,195.4 136.4,197.1 135.7,198.5 135.9,199.3 135.8,200.9 137.2,200.5 136.6,202.6 136.1,204.4 137.5,205.7 137.9,206.3 136.9,206.7 137.8,207.0 137.7,209.3 137.4,210.9 137.7,211.2 137.7,212.8 138.6,213.7 139.3,214.5 138.6,215.0 139.5,214.7 139.5,216.0 139.4,218.1 139.7,219.5 139.9,219.3 141.1,220.7 140.9,222.6 140.4,223.7 140.7,224.5 141.0,225.0 141.4,223.7 142.2,225.9 142.8,226.6 142.1,228.8 142.5,230.6 142.5,231.2 142.1,231.9 142.6,233.8 142.5,234.2 142.6,234.4 142.8,237.2 142.6,237.4 143.3,236.6 143.6,236.9 143.7,239.4 144.1,242.0 144.9,243.6 144.8,243.1 144.1,245.0 144.9,245.8 145.0,246.9 144.9,246.8 145.2,248.7 145.3,250.5 145.1,249.9 145.6,250.2 145.5,250.9 146.7,252.8 146.3,253.8 147.3,254.1 147.9,253.5 148.4,255.5 148.2,256.4 148.1,257.8 148.7,258.5 149.2,259.4 148.6,260.2 149.7,262.5 149.6,264.8 148.7,264.5 149.6,263.2 150.2,264.5 150.4,266.1 150.6,267.3 150.8,268.5 151.7,270.4 151.6,271.7 152.8,272.5 153.0,273.0 152.6,273.4 153.2,274.3 154.1,275.9 155.7,277.7 155.7,278.1 156.4,279.3 156.9,280.0 157.5,279.2 158.5,281.0 158.7,282.5 158.7,283.9 159.1,283.5 159.1,285.3 159.3,285.6 160.5,285.6 160.8,285.9 161.4,286.8 161.1,288.0 162.4,287.1 163.4,287.4 164.9,291.2 164.6,292.0 164.9,292.3 166.1,293.5 167.1,293.7 167.8,294.0 169.0,295.2 169.4,296.1 169.8,295.5 169.9,298.8 171.2,298.1 171.6,299.0 172.9,300.0 173.8,300.3 175.2,300.6 175.5,300.3 176.8,300.7 178.0,301.9 178.9,300.8 179.7,300.5 180.6,301.7 181.4,302.2 181.9,302.2 184.3,304.9 183.7,306.4 184.6,305.1 186.4,303.2 188.1,303.7 188.8,303.9 189.5,304.9 190.4,305.2 192.3,303.9 192.9,304.7 193.0,304.7 194.1,304.8 194.3,304.9 195.5,304.1 196.8,304.2 197.7,304.7 199.0,305.0 200.2,306.2 201.3,305.0 202.4,305.9 203.0,305.9 204.3,306.5 205.1,306.7 206.0,306.6 207.7,307.0 208.2,307.6 209.4,307.7 210.1,307.0 211.6,307.6 212.3,307.8 213.4,308.0 214.3,306.8 215.7,306.7 216.7,307.1 217.6,307.3 218.7,307.4 219.8,307.4 220.7,308.4 221.4,308.6 222.4,308.4 223.3,308.6 224.3,308.5 225.4,308.7 226.4,309.3 227.4,309.1 228.2,308.7 229.2,309.2 230.3,308.3 231.4,308.7 232.8,308.6 233.5,308.7 234.8,309.0 235.5,309.7 236.6,309.2 237.8,309.5 238.5,309.7 239.4,309.6 240.7,309.5 241.6,309.6 242.4,309.8 243.4,309.8 244.4,309.4 245.3,309.5 246.5,309.4 247.2,309.5 248.2,309.4 249.2,309.7 250.1,309.8 251.3,309.9 252.4,310.3 253.5,310.3 254.6,309.9 255.6,310.1 256.5,310.0 257.6,309.6 258.6,309.8 259.5,310.1 260.5,310.2 261.5,310.4 262.6,310.6 263.5,310.8 264.3,310.5 265.4,310.6 266.5,310.6 267.5,310.8 268.4,310.7 269.4,310.4 270.4,310.6 271.5,310.5 272.3,310.6 273.3,310.8 274.3,310.8 275.4,310.5 276.5,310.5 277.5,310.7 278.3,310.9 279.2,310.8 280.3,310.6 281.2,310.7 282.3,310.6 283.4,310.7 284.4,310.6 285.5,310.8 286.5,310.7 287.5,310.7 288.4,310.9 289.4,310.8 290.4,310.7 291.4,310.8 292.3,310.7 293.3,310.7 294.3,310.6 295.3,310.6 296.5,310.8 297.5,310.9 298.5,310.9 299.5,310.8 300.5,310.9 301.4,310.8 302.4,310.7 303.5,310.5 304.3,310.4 305.3,310.6 306.4,310.6 307.3,310.8 308.3,310.5 309.3,310.7 310.4,310.6 311.4,310.6 312.4,310.4 313.3,310.7 314.4,310.7 315.3,310.8 316.2,310.8 317.2,310.7 318.4,310.9 319.5,310.8 320.5,310.9 321.4,310.7 322.4,310.8 323.4,310.7 324.3,310.8 325.3,310.9 326.4,310.9 327.4,310.6 328.4,310.9" fill="none" stroke="#a8b4f4" stroke-width="1.3" stroke-linejoin="round" opacity="1.0"/>
<polyline points="75.4,305.7 75.7,305.9 75.9,307.3 76.1,308.7 76.0,309.9 76.0,310.6 76.2,310.9 77.2,310.9 78.4,310.9 79.4,310.9 80.2,310.9 81.1,310.6 82.3,309.6 83.2,308.9 84.5,309.1 85.3,308.6 86.1,308.3 86.8,307.4 87.7,306.8 88.3,305.8 89.5,304.5 90.1,303.5 90.9,301.3 91.6,301.9 92.2,299.9 92.3,298.8 93.0,299.9 92.6,297.8 92.0,296.2 92.3,294.8 93.1,295.3 93.2,294.3 92.8,291.5 93.2,288.9 93.9,289.7 93.9,289.0 93.6,288.5 92.9,287.5 93.1,286.7 94.7,285.7 94.9,283.9 95.4,282.6 95.3,282.4 95.7,281.0 96.6,280.8 97.2,279.5 96.2,278.4 96.3,278.0 96.7,276.2 97.0,275.7 97.4,274.4 96.4,273.7 97.5,272.6 97.7,270.6 97.5,269.0 97.8,268.1 97.6,268.1 98.0,268.2 98.7,266.2 97.9,265.5 98.7,262.8 99.1,263.1 98.5,261.9 98.6,261.2 98.8,259.7 100.2,256.5 99.2,257.2 99.2,256.0 99.7,255.9 99.3,255.1 99.5,253.4 99.2,254.3 100.2,251.4 101.0,250.6 100.6,250.7 100.2,249.2 100.1,248.2 101.3,247.4 101.6,246.8 101.7,244.8 101.6,243.4 101.1,242.0 102.2,241.7 102.0,239.2 102.2,238.8 101.7,238.0 102.3,237.6 102.0,235.5 101.1,236.0 102.6,236.1 102.9,233.2 102.6,231.4 102.6,231.6 102.6,230.7 102.3,229.2 103.0,228.1 102.5,227.5 103.3,226.4 103.0,226.7 103.1,224.7 102.9,223.9 103.6,220.7 103.2,221.4 103.9,221.0 103.8,220.6 104.3,221.1 104.7,221.1 104.8,218.8 104.4,217.3 105.3,215.2 104.1,213.4 104.3,211.5 104.8,209.3 104.4,209.6 105.1,210.4 104.9,209.5 104.6,207.8 104.9,208.1 105.1,206.2 105.8,205.0 105.9,204.6 105.7,203.5 105.4,201.8 105.8,201.6 107.1,200.3 107.4,200.0 106.5,198.8 107.2,197.4 107.6,196.7 107.2,194.0 107.1,192.5 107.9,191.7 107.7,190.4 107.8,189.2 108.5,189.3 107.7,188.9 107.0,188.8 106.6,186.9 106.5,185.7 107.3,183.2 107.5,182.9 107.5,182.9 108.5,182.1 107.8,181.5 108.4,179.4 109.2,179.0 109.2,177.0 110.0,176.9 109.7,174.9 109.9,174.2 111.0,174.7 109.4,173.9 109.6,172.4 109.7,170.7 109.1,170.7 109.7,169.3 110.4,169.3 110.9,167.5 110.9,166.0 110.8,166.0 110.8,163.6 111.1,163.5 111.3,161.8 111.8,161.6 111.3,159.2 110.9,156.0 111.0,155.4 111.8,155.9 112.2,154.0 113.0,154.3 113.1,154.3 112.6,153.7 113.1,152.5 112.5,149.6 112.6,148.1 112.7,148.6 112.9,147.4 112.6,145.9 112.3,145.4 113.5,145.5 114.4,144.5 113.6,143.6 113.9,141.5 114.3,139.6 113.4,139.0 113.3,139.1 114.4,136.6 114.8,135.0 115.0,135.3 114.2,133.4 114.6,131.8 114.9,132.3 115.3,131.2 114.5,130.2 115.4,129.4 115.8,128.8 116.8,126.9 115.8,127.0 115.7,124.5 116.5,124.7 116.2,121.7 116.0,122.7 116.0,121.4 116.3,120.1 116.9,117.8 116.4,117.0 116.7,118.0 117.2,116.6 117.5,115.9 116.8,115.1 116.0,113.7 117.0,113.1 116.9,111.8 117.3,110.6 117.2,109.7 116.5,106.0 116.2,105.8 116.3,105.2 116.5,103.2 117.4,103.8 117.6,101.4 117.1,101.6 116.1,100.1 117.1,100.7 117.7,97.4 117.7,96.3 117.3,96.2 117.8,96.1 117.4,94.8 117.9,94.0 118.5,92.3 118.1,94.5 118.7,95.4 119.2,96.2 119.6,96.3 119.6,97.1 119.5,97.6 120.0,98.9 120.8,100.5 121.2,101.1 121.8,102.5 123.3,102.8 122.6,103.7 122.4,105.3 123.1,105.3 123.9,106.0 124.4,107.0 123.4,108.8 123.6,110.2 124.6,110.2 124.4,111.4 124.8,113.2 125.0,114.0 124.7,115.7 125.5,115.7 126.3,116.6 126.9,118.1 127.8,117.9 126.8,120.9 127.3,121.8 127.1,123.0 127.3,123.3 127.4,124.1 128.4,124.0 128.0,126.2 127.4,126.7 128.1,128.3 128.6,128.7 128.8,129.2 129.1,131.3 128.6,132.1 128.5,134.2 128.4,135.0 128.5,135.8 129.7,136.8 130.0,136.9 129.2,138.1 128.7,138.2 129.2,139.4 129.0,138.9 129.4,140.9 129.3,143.3 129.3,144.6 129.3,145.6 128.3,146.8 129.6,148.3 129.2,151.0 130.3,151.1 129.3,150.9 129.7,151.9 130.2,151.5 130.5,154.3 130.1,154.0 130.7,155.2 131.6,155.5 131.8,156.1 131.7,159.1 130.9,159.3 131.7,160.3 131.8,160.6 131.8,161.2 132.6,162.9 132.9,163.2 132.4,163.6 132.5,165.7 132.9,165.7 132.9,167.8 132.4,169.1 132.5,170.6 133.5,170.6 134.4,168.2 134.6,171.7 134.6,170.9 133.9,173.7 134.0,175.5 134.3,177.7 134.8,178.3 135.2,179.9 135.7,181.7 135.6,181.5 134.7,181.7 134.3,182.8 134.6,184.7 135.1,185.5 135.4,187.5 135.6,187.6 134.7,188.0 135.5,189.0 136.7,190.4 136.0,189.5 136.9,191.2 137.0,192.5 136.4,194.3 138.0,194.5 136.3,195.8 137.7,197.4 137.8,198.5 136.4,199.5 136.7,199.5 138.3,200.7 138.5,201.2 138.9,202.1 139.0,203.8 138.6,205.3 138.0,206.3 138.4,207.8 138.5,208.8 138.4,210.3 139.6,210.4 139.5,210.5 139.8,212.1 140.2,213.8 140.3,215.7 139.9,215.9 140.5,217.1 140.3,218.9 140.7,219.0 140.3,219.6 141.1,219.9 141.3,222.5 141.6,222.8 142.2,223.3 142.8,224.4 142.5,224.8 142.3,226.7 141.3,227.0 142.3,228.6 142.9,228.9 143.1,230.9 143.7,231.2 143.7,233.2 143.4,232.5 143.4,233.9 143.1,233.8 143.4,235.6 143.7,236.4 143.5,237.7 143.5,239.1 144.9,239.4 145.1,240.2 145.9,241.7 146.2,244.0 145.8,244.2 145.4,245.7 145.1,247.1 145.1,248.2 146.0,248.1 146.1,248.6 145.8,250.2 146.5,251.5 147.5,252.9 147.5,252.8 148.0,253.9 147.5,254.2 148.3,256.3 148.8,256.4 149.0,257.4 149.9,259.3 149.9,260.0 149.7,261.8 149.8,262.4 149.9,263.6 150.8,263.7 151.0,263.7 151.1,265.2 152.0,265.6 152.3,265.8 152.3,267.5 152.7,270.7 152.8,271.0 152.9,270.7 153.6,270.7 153.9,271.0 153.3,272.8 155.2,274.7 155.4,276.9 155.9,276.2 156.5,277.3 156.3,278.0 156.6,278.9 157.2,279.6 157.3,281.0 159.2,281.6 159.4,281.9 160.2,283.1 159.9,284.6 160.6,285.0 161.9,286.5 161.9,286.9 162.9,287.2 163.8,288.1 163.2,288.4 164.3,290.1 165.1,292.1 165.6,292.5 165.9,293.0 167.0,293.9 167.4,293.8 168.1,294.2 168.7,296.5 170.4,297.5 170.8,298.1 170.6,298.5 171.7,299.2 172.5,299.1 173.6,298.8 175.0,299.9 175.4,299.6 177.2,299.3 177.3,298.5 179.1,300.4 178.9,303.0 180.6,304.0 181.2,303.1 182.4,303.2 182.5,302.6 183.9,303.7 185.5,304.5 185.0,305.4 185.9,304.1 187.3,303.8 188.5,303.8 189.3,304.7 190.3,303.2 190.8,304.1 191.6,303.4 193.6,304.5 194.8,306.1 195.1,307.5 196.5,306.5 197.8,306.0 199.0,307.9 199.1,307.8 200.0,307.4 200.4,307.4 202.4,307.9 203.9,308.7 205.1,308.1 205.5,307.0 206.6,306.8 208.1,307.2 208.9,306.6 209.8,307.1 210.6,307.1 212.0,307.5 213.3,307.7 213.7,308.2 214.8,307.9 215.6,308.6 216.6,308.3 217.8,307.8 218.6,308.3 219.7,308.4 220.6,309.9 221.8,309.3 222.3,308.9 223.5,308.2 224.8,308.8 226.0,309.0 226.6,309.3 227.6,309.1 228.0,309.1 229.5,309.5 230.6,309.3 231.5,310.0 232.8,310.4 233.5,310.4 234.5,310.4 235.7,309.9 236.6,310.1 237.3,310.4 238.5,310.4 239.6,310.4 240.4,310.2 241.3,310.7 242.2,310.8 243.5,310.2 244.2,310.6 245.2,310.8 246.5,310.6 247.6,310.5 248.5,310.0 249.7,310.2 250.7,310.4 251.7,310.9 252.6,310.9 253.6,310.8 254.6,310.9 255.5,310.9 256.6,310.9 257.5,310.9 258.4,310.9 259.4,310.9 260.4,310.8 261.4,310.9 262.6,310.9 263.5,310.9 264.6,310.9 265.6,310.9 266.5,310.9 267.6,310.9 268.6,310.9 269.6,310.9 270.4,310.9 271.5,310.9 272.5,310.9 273.5,310.9 274.5,310.9 275.7,310.9 276.5,310.9 277.5,310.9 278.5,310.9 279.4,310.9 280.6,310.9 281.5,310.9 282.5,310.9 283.6,310.9 284.6,310.9 285.6,310.9 286.7,310.9 287.6,310.9 288.6,310.9 289.7,310.9 290.5,310.9 291.5,310.9 292.7,310.9 293.7,310.9 294.6,310.9 295.7,310.9 296.7,310.9 297.6,310.9 298.7,310.9 299.7,310.9 300.7,310.9 301.8,310.9 302.7,310.9 303.7,310.9 304.6,310.9 305.6,310.9 306.6,310.9 307.7,310.9 308.6,310.9 309.6,310.9 310.6,310.9 311.8,310.9 312.8,310.9 313.7,310.9 314.7,310.9 315.7,310.9 316.7,310.9 317.6,310.9 318.5,310.9 319.6,310.9 320.6,310.9 321.5,310.9 322.5,310.9 323.4,310.9 324.6,310.9 325.6,310.9 326.6,310.9 327.7,310.9 328.6,310.9 329.6,310.9" fill="none" stroke="#8f8ff6" stroke-width="1.3" stroke-linejoin="round" opacity="1.0"/>
<polygon points="73.5,307.2 73.9,308.4 74.4,309.3 74.6,310.7 75.6,310.7 76.7,310.6 77.7,310.5 78.7,310.4 79.7,310.5 80.7,310.4 81.8,310.5 82.9,310.5 84.0,310.5 85.0,310.4 86.0,310.4 86.6,309.9 87.2,308.8 87.7,308.0 88.5,307.4 89.1,306.1 89.8,304.8 90.6,304.0 91.0,304.1 91.2,303.2 91.4,301.8 92.5,299.7 92.5,298.9 93.3,297.9 93.7,296.8 93.5,296.3 93.9,295.7 94.0,294.2 94.3,292.6 95.4,292.8 95.2,291.3 95.1,289.0 95.3,290.5 95.0,288.6 95.9,287.3 96.0,286.2 96.2,286.3 96.4,284.7 96.7,283.7 97.1,280.5 96.3,279.6 97.4,278.8 97.7,277.7 98.1,278.4 98.6,277.0 98.8,275.2 98.4,274.4 98.7,274.9 99.9,274.1 99.6,272.3 100.3,272.2 100.2,270.6 99.6,268.8 99.8,267.9 100.7,266.9 100.8,265.0 100.0,264.0 100.2,263.0 100.5,261.7 100.8,261.3 100.3,260.6 101.0,260.1 101.1,258.9 101.4,257.6 101.1,257.3 101.5,256.6 101.9,255.3 102.3,253.6 102.7,251.8 102.7,251.0 102.8,249.8 103.1,250.2 103.2,249.4 102.4,247.7 103.1,246.7 102.6,245.7 103.2,244.8 102.9,244.4 102.9,242.4 103.0,242.6 103.6,240.8 103.8,238.9 104.3,239.0 104.1,237.5 104.5,237.3 104.6,235.6 104.2,235.2 103.7,234.6 104.0,232.6 104.4,231.6 104.9,229.6 105.1,229.0 104.6,228.2 104.9,225.9 104.8,225.0 104.6,224.0 105.3,223.5 105.8,222.4 105.8,222.4 106.5,221.4 105.6,221.0 105.7,219.7 105.4,218.3 105.2,218.4 105.8,217.1 106.8,215.6 106.6,214.7 106.7,214.8 106.7,212.8 106.5,212.8 106.8,210.3 107.2,209.2 107.2,207.9 107.3,207.2 107.1,207.4 107.2,205.0 107.8,203.5 107.5,202.0 107.4,201.6 107.5,200.9 107.9,199.7 107.7,197.9 107.7,196.4 108.8,196.4 109.0,196.7 108.8,196.1 108.6,194.2 109.2,193.1 109.3,191.9 109.3,190.3 108.6,188.8 108.5,187.4 109.4,187.4 109.8,186.1 110.2,185.1 110.4,183.5 110.6,182.7 110.1,181.9 110.2,181.7 110.0,180.8 110.4,180.3 110.7,177.9 111.5,178.4 111.2,177.1 110.7,174.1 111.3,174.1 110.8,174.3 111.1,172.5 111.1,171.5 111.8,170.4 111.5,170.2 111.4,168.3 112.2,167.5 111.8,167.3 111.4,165.1 111.5,163.9 112.0,163.1 112.3,162.0 113.1,162.0 113.0,160.8 112.4,158.4 112.8,158.1 113.0,157.0 113.0,155.8 112.9,155.6 113.1,154.1 113.4,152.5 113.5,151.4 113.0,152.0 112.7,151.7 113.4,151.1 113.2,145.9 113.5,145.0 113.9,145.0 113.7,144.4 113.6,144.2 114.0,142.7 114.3,142.1 114.6,141.6 114.3,140.8 114.6,139.7 114.7,138.3 115.0,136.1 114.9,135.4 114.9,133.9 114.8,133.7 114.8,131.4 115.0,130.4 115.1,130.7 114.4,129.8 115.2,129.4 115.0,126.7 115.4,125.5 115.5,125.7 115.6,124.4 115.6,122.9 116.1,122.1 115.8,121.1 116.2,120.0 116.8,120.0 116.9,118.7 116.7,117.4 116.9,116.2 117.0,114.5 117.0,114.1 117.3,112.9 117.2,112.9 117.5,111.2 117.9,110.2 117.9,109.0 118.1,108.3 117.9,108.2 118.0,106.3 119.1,104.2 118.6,104.2 118.9,103.6 118.4,101.8 118.5,100.7 118.7,100.0 118.6,99.5 118.7,98.1 119.6,97.6 119.5,95.6 119.3,95.3 119.0,94.0 119.1,92.8 119.2,91.3 119.3,90.5 119.4,88.9 119.5,88.6 119.8,88.2 120.3,87.7 120.1,86.9 120.9,84.7 121.0,83.5 121.2,81.2 121.7,81.1 121.6,80.9 121.7,82.2 122.1,82.6 122.6,83.6 123.2,84.8 122.4,85.3 122.7,86.7 123.8,84.9 125.0,83.8 125.1,85.4 125.4,86.8 126.0,88.3 126.2,88.1 126.5,88.5 127.5,90.1 129.0,90.5 128.7,91.7 129.0,92.8 129.2,94.2 129.8,95.9 129.4,96.6 128.6,97.9 128.7,99.2 129.8,99.7 129.9,100.3 130.1,102.1 130.3,104.1 130.1,103.4 130.8,103.5 131.1,104.9 131.4,105.7 131.6,106.8 131.6,108.5 131.9,110.1 132.3,109.6 132.4,111.4 132.8,112.5 132.9,114.2 132.9,114.8 133.1,116.2 133.3,117.6 133.5,117.6 133.3,119.9 133.4,119.8 133.5,121.2 134.4,123.3 134.1,123.1 134.3,125.1 134.3,126.3 134.0,126.4 134.3,126.8 134.0,129.0 134.7,130.3 134.2,131.6 135.0,132.1 135.4,134.0 135.9,134.7 136.2,135.3 136.3,136.1 137.2,136.7 136.6,138.5 136.6,139.3 136.8,140.4 137.4,141.8 137.2,142.6 137.6,143.3 137.5,144.3 138.2,145.5 138.4,147.2 138.2,148.8 139.3,149.1 139.1,149.2 139.0,150.0 139.3,151.8 138.7,152.8 138.8,155.1 139.3,154.6 139.5,156.1 139.7,155.9 139.5,157.5 140.2,159.1 139.9,159.6 140.0,160.8 140.5,162.4 140.5,163.5 140.6,163.9 140.4,164.1 141.5,166.0 141.5,166.9 141.5,169.0 141.7,169.7 141.4,170.6 141.4,171.9 142.0,173.0 142.2,172.6 142.0,174.1 142.7,175.7 142.4,175.9 143.0,177.3 143.5,178.4 143.2,177.0 142.2,179.1 142.9,180.6 143.4,180.9 144.1,182.2 143.7,183.5 143.7,183.8 144.2,185.8 144.1,187.5 144.0,188.9 144.2,189.9 144.3,192.2 144.1,193.2 143.9,194.0 144.7,194.0 144.8,195.4 144.7,196.5 145.4,196.7 145.2,197.2 145.2,199.1 145.3,200.6 145.2,202.2 145.7,203.5 146.8,203.8 146.1,204.8 146.0,205.2 146.8,205.7 147.1,206.7 147.2,208.2 147.5,209.6 147.8,210.8 148.0,211.4 147.9,212.3 148.0,213.6 148.0,214.1 148.1,214.7 148.4,215.4 149.2,217.2 149.0,217.3 148.7,218.1 149.8,219.5 150.1,220.8 150.1,221.7 150.8,223.5 150.6,222.9 151.0,224.2 151.2,226.1 151.5,226.5 152.3,228.0 152.4,229.0 152.6,229.8 152.8,230.5 152.7,232.2 153.4,233.9 153.8,234.2 153.7,233.0 153.4,234.0 153.4,236.6 154.2,237.9 153.8,238.5 153.9,240.0 154.6,240.4 154.3,241.6 154.6,243.0 154.7,244.7 155.4,245.3 155.2,247.0 155.6,247.9 155.8,248.6 156.0,248.6 156.7,250.1 156.6,250.9 156.7,251.9 157.1,253.4 157.3,254.7 156.9,255.0 157.6,255.9 157.6,257.1 157.3,258.9 157.5,259.7 157.4,260.5 158.3,261.5 158.6,262.3 159.2,263.2 159.6,264.2 160.6,265.0 161.1,265.5 161.5,266.4 161.7,268.1 162.2,270.0 162.9,270.5 163.4,271.5 164.1,272.0 165.2,271.8 165.7,274.2 166.0,276.1 166.9,275.6 167.8,277.5 168.7,278.9 169.0,279.8 169.6,280.6 170.1,281.9 170.3,280.7 171.2,281.2 172.4,283.6 172.9,282.5 173.8,284.0 175.0,283.9 175.5,283.9 176.7,284.5 177.8,286.2 178.2,287.4 179.1,287.9 180.1,287.9 181.4,289.2 182.4,290.3 183.7,291.0 184.3,290.8 185.7,292.0 186.8,291.9 187.0,292.7 188.2,293.2 189.6,293.9 190.3,294.5 191.2,294.7 191.9,295.4 192.9,295.7 193.4,296.2 194.2,297.6 195.1,298.2 196.9,298.1 198.3,299.4 198.6,300.0 199.6,300.6 201.0,300.6 201.6,301.6 203.1,301.7 204.4,301.3 205.7,301.6 206.7,300.5 207.4,301.0 209.0,301.6 209.3,302.0 209.5,303.8 210.9,303.1 211.7,303.9 212.7,303.8 214.2,304.0 214.9,305.1 216.1,305.9 217.4,305.7 218.7,305.7 219.2,305.8 220.4,306.3 221.4,305.7 222.0,306.1 222.4,306.0 223.8,306.4 225.0,306.7 226.1,306.6 227.1,306.9 227.9,306.9 228.6,307.1 229.9,307.9 230.9,307.3 231.8,307.7 232.7,307.6 233.6,306.8 234.5,307.2 236.0,307.1 237.0,307.4 238.1,307.2 239.0,307.7 239.7,307.6 240.5,308.2 241.7,307.8 242.8,308.2 243.8,307.9 244.8,308.2 246.0,308.1 247.1,308.1 247.9,308.2 249.3,308.5 250.1,308.6 250.7,308.6 252.1,309.1 252.9,309.0 253.8,309.0 254.9,309.2 256.1,309.2 257.1,309.1 258.3,308.7 259.2,309.3 260.0,308.9 260.9,309.3 261.8,309.3 262.9,309.0 264.0,309.1 265.0,309.4 266.1,309.1 267.2,309.0 268.2,308.8 269.1,309.4 270.1,309.5 271.2,309.8 272.0,309.4 272.9,309.5 273.9,309.6 275.0,309.9 275.9,310.0 276.9,309.9 278.0,309.8 279.1,309.9 280.0,310.0 281.0,310.0 282.0,309.9 282.9,310.1 283.8,310.0 284.9,310.2 285.8,310.2 287.0,310.2 288.2,310.2 289.2,310.2 290.1,310.3 290.9,310.6 291.9,310.4 292.8,310.3 293.9,310.5 295.0,310.5 296.0,310.3 297.1,310.3 298.0,310.5 299.1,310.6 300.0,310.4 301.1,310.5 302.1,310.4 303.0,310.5 304.1,310.2 305.0,310.4 306.0,310.3 307.0,310.4 308.0,310.7 309.0,310.5 310.1,310.4 311.2,310.5 312.1,310.6 313.0,310.7 314.0,310.7 314.9,310.6 316.0,310.6 316.9,310.6 317.9,310.7 318.9,310.8 320.0,310.5 321.0,310.7 321.9,310.7 323.0,310.8 324.0,310.8 325.1,310.8 326.1,310.6 326.0,310.5 325.0,310.5 324.0,310.6 323.0,310.5 322.0,310.5 321.0,310.4 320.0,310.4 319.0,310.3 318.0,310.3 317.0,310.4 316.0,310.3 315.0,310.3 313.9,310.3 313.0,310.4 312.0,310.5 310.9,310.2 310.0,310.1 309.1,310.1 308.0,310.0 306.9,309.9 306.0,309.9 305.0,310.0 303.9,310.0 302.9,310.0 301.9,310.1 301.0,310.1 300.0,309.9 298.9,309.9 297.9,309.7 297.0,309.7 296.0,309.6 295.0,309.5 294.0,309.2 293.1,309.5 292.0,309.4 291.1,309.5 290.2,309.5 289.1,309.6 288.1,309.4 286.9,309.3 286.0,309.1 284.9,309.1 283.8,309.0 282.6,309.3 281.7,309.4 280.8,309.2 279.9,309.1 278.9,309.0 277.9,309.0 276.9,309.0 275.9,309.3 275.0,309.0 274.1,309.0 272.9,309.4 272.1,309.5 271.0,309.5 270.0,309.4 269.0,309.1 268.1,309.2 267.0,309.1 266.0,309.0 265.0,308.9 263.9,308.9 262.9,308.9 261.9,309.0 260.9,308.7 260.0,308.8 258.9,308.9 258.0,308.7 257.1,308.6 256.1,308.4 255.0,308.5 254.1,308.8 253.0,309.0 252.1,308.8 251.1,308.6 250.1,308.5 248.9,308.5 247.8,308.7 246.8,308.4 245.8,308.5 245.0,308.5 244.0,308.2 243.0,308.0 242.2,308.1 241.2,308.1 240.2,308.4 239.2,308.5 238.2,308.2 237.2,308.0 236.2,308.3 235.1,308.5 234.2,308.7 233.1,308.1 232.2,308.1 231.0,308.2 230.1,308.2 228.8,308.1 227.8,307.8 227.1,307.9 226.2,307.5 224.8,307.3 223.8,307.6 222.6,307.3 221.9,307.0 221.1,306.9 219.8,306.5 219.1,305.7 218.1,306.4 216.6,305.8 215.6,305.4 214.7,305.6 214.1,305.6 213.0,305.1 212.2,304.9 210.8,304.1 209.6,304.6 208.8,304.2 208.0,304.1 206.8,304.1 205.8,303.5 205.0,303.6 203.7,303.9 202.8,303.7 201.6,303.1 201.1,302.7 200.0,302.7 199.2,303.1 198.1,303.1 196.8,303.1 196.0,302.2 194.9,301.7 193.9,301.4 193.1,301.0 191.7,300.3 191.1,300.9 189.9,300.2 188.7,300.4 187.7,300.0 186.6,300.1 185.6,300.3 184.4,299.5 183.6,298.9 182.6,298.6 182.3,297.6 181.4,297.5 180.5,296.9 179.7,296.3 178.3,295.7 177.4,295.8 176.4,295.1 175.7,294.6 174.6,294.3 173.6,294.1 172.7,292.9 171.8,292.4 171.2,292.1 169.8,291.5 169.1,291.0 168.2,290.7 167.7,290.6 167.1,290.6 165.9,289.2 165.3,287.7 164.4,287.4 163.7,286.4 162.6,285.4 161.7,284.4 161.5,283.6 160.9,283.3 160.3,282.4 160.3,281.0 159.8,280.1 159.2,279.3 158.6,278.3 158.5,277.9 158.3,276.1 158.1,275.5 157.3,274.2 157.2,273.1 156.8,272.4 155.8,271.2 155.6,269.4 155.3,269.5 154.8,269.0 154.4,269.0 154.2,267.9 154.3,266.9 154.3,265.3 154.1,264.7 153.6,263.4 153.5,262.4 153.7,260.4 153.1,260.0 153.3,259.6 152.8,258.2 152.7,257.3 152.3,255.9 152.1,255.1 151.6,253.7 151.1,252.5 150.8,252.1 150.6,251.5 150.2,250.1 150.0,249.2 150.5,247.9 149.6,246.1 149.0,245.2 149.0,244.9 149.4,244.0 149.0,243.2 149.4,242.3 148.6,240.6 148.6,239.8 148.3,239.1 148.1,237.8 147.6,236.7 147.2,235.1 146.7,235.1 146.3,234.2 146.5,232.8 146.2,231.8 145.9,230.2 146.1,228.1 145.7,228.8 145.6,227.8 145.2,227.2 145.0,225.7 144.8,224.0 144.3,223.1 143.9,222.5 144.2,221.9 143.8,220.7 143.9,219.6 143.4,218.1 143.4,217.6 143.3,216.4 142.9,215.7 142.4,214.4 142.8,213.6 142.8,212.8 142.4,211.3 141.8,209.7 141.9,209.4 141.6,208.3 141.3,207.1 141.2,206.2 140.5,204.1 140.8,203.4 140.5,203.5 140.1,202.6 140.4,201.4 140.1,199.9 140.1,199.1 139.9,198.7 139.7,197.6 139.5,196.7 139.1,195.6 138.7,194.2 138.8,193.9 139.0,192.5 139.5,191.5 139.3,189.4 138.2,188.5 138.4,187.3 138.7,187.1 138.4,186.1 138.0,185.0 137.7,184.2 137.7,182.8 137.5,181.7 137.1,180.8 136.8,179.7 137.0,179.4 136.9,178.2 136.3,177.1 136.7,176.5 136.9,174.8 137.2,173.3 136.6,172.9 136.9,171.9 136.4,170.6 135.8,170.1 135.7,169.0 135.6,168.3 135.5,166.6 135.2,165.2 135.0,164.2 134.8,164.0 134.2,163.4 134.6,161.8 134.4,160.6 134.0,159.9 133.7,159.5 133.5,159.1 133.3,157.2 133.5,156.1 133.0,155.1 133.1,154.0 133.1,152.9 133.0,152.0 132.9,151.1 132.5,150.2 132.4,149.1 132.2,147.0 131.7,146.8 131.6,145.9 131.8,144.7 131.4,143.8 131.4,142.6 131.4,141.8 131.1,140.8 131.1,140.4 130.6,139.1 130.7,137.5 130.8,137.3 130.7,135.8 130.7,134.5 130.4,133.2 130.2,132.6 130.1,132.5 129.8,131.1 129.7,129.7 129.4,129.2 128.9,128.7 128.6,126.9 128.9,125.6 128.8,125.5 128.4,123.9 128.5,123.2 128.1,122.3 127.7,120.5 128.0,119.4 127.6,118.6 127.7,117.7 127.5,117.1 127.0,116.4 126.6,115.2 126.6,113.2 126.4,112.4 126.2,111.2 126.4,110.8 126.0,109.7 125.3,108.5 125.6,107.2 125.5,106.5 125.0,105.7 124.6,105.6 124.3,103.9 124.0,103.4 123.8,102.0 123.3,100.6 123.1,99.9 123.3,99.1 122.3,98.8 122.5,97.2 122.4,95.7 120.9,94.3 120.9,94.8 120.6,96.7 120.8,98.9 120.7,99.4 120.2,100.0 120.1,100.9 120.1,101.6 119.6,103.5 119.5,104.5 119.7,104.9 119.8,105.3 119.7,106.2 119.4,106.1 119.4,108.5 118.9,109.2 118.6,111.2 118.7,112.3 118.1,113.1 118.5,113.6 118.5,114.2 118.1,115.6 118.0,117.1 117.9,118.6 118.0,118.9 118.0,120.2 117.9,121.2 117.6,121.8 117.4,122.2 117.2,123.1 117.4,124.8 117.6,126.0 117.2,127.7 117.2,128.2 117.3,129.2 117.1,130.2 117.2,131.1 116.9,131.8 116.7,132.3 116.5,134.1 116.0,134.7 116.3,135.0 116.2,136.8 116.4,137.9 115.8,138.8 116.2,140.4 115.9,141.2 116.0,142.5 115.8,143.2 115.6,144.4 115.5,145.0 114.9,145.6 115.5,146.8 115.5,147.4 115.1,147.9 115.1,150.1 115.1,151.1 114.7,152.7 114.4,153.8 114.3,154.3 114.4,155.1 114.1,155.9 113.9,156.6 114.0,158.3 113.4,158.8 113.3,160.4 113.6,160.4 113.4,162.2 113.4,162.9 113.2,164.1 112.9,164.6 113.0,165.1 112.4,165.8 112.8,166.7 112.5,168.5 112.3,169.9 112.6,170.9 112.5,172.5 112.1,172.9 112.2,174.3 112.4,175.1 112.6,176.6 112.3,176.8 111.9,177.9 111.3,178.9 111.3,179.7 111.2,180.7 111.0,181.6 110.8,183.4 110.8,183.8 110.6,184.7 110.5,185.7 110.6,186.7 110.7,188.2 109.9,188.9 110.3,189.6 110.4,190.0 110.3,191.7 110.4,193.5 110.3,194.4 110.1,194.9 109.9,195.3 110.5,197.2 110.4,197.9 109.4,199.2 109.2,200.6 108.8,200.8 109.0,202.3 109.2,203.7 108.8,204.7 108.8,204.9 108.3,207.0 108.0,207.5 108.0,208.0 108.4,208.7 108.9,210.0 108.6,210.8 108.1,212.5 107.7,213.9 107.7,214.7 107.6,215.4 107.6,215.9 107.3,217.3 107.7,218.4 107.3,219.8 107.2,220.9 107.1,221.0 106.9,222.1 106.9,223.0 107.0,224.0 106.4,225.1 106.3,226.2 106.2,227.8 106.6,228.1 106.5,228.6 106.1,229.8 106.0,230.8 105.6,231.6 105.3,232.7 105.5,234.2 105.2,235.1 105.3,235.4 105.9,236.8 105.6,237.1 105.3,239.3 105.2,239.9 105.1,240.8 105.3,242.2 104.9,243.2 104.9,244.0 104.7,244.7 104.7,245.6 104.8,246.7 104.5,247.3 104.3,248.7 104.3,250.0 103.9,249.9 104.0,250.9 103.3,252.5 103.2,253.1 103.1,255.2 103.0,255.1 103.0,256.2 103.2,257.4 103.4,258.7 103.1,259.3 102.6,260.0 102.4,261.1 102.2,261.9 102.4,263.0 102.2,264.3 102.1,266.2 102.1,267.0 101.7,268.3 101.3,269.1 101.4,270.1 101.9,270.9 101.4,271.8 101.4,273.1 101.3,273.6 101.0,274.6 101.1,275.5 100.5,276.6 100.2,278.0 100.4,278.7 99.4,278.8 99.6,281.1 99.3,281.9 99.5,283.0 99.2,284.3 99.0,285.2 98.9,286.5 98.5,287.1 98.8,287.5 98.3,288.8 98.0,289.8 98.2,291.1 97.7,292.1 97.0,292.9 96.7,294.1 96.6,295.1 96.5,295.7 96.4,297.0 96.3,297.6 96.0,298.6 95.2,299.7 95.4,300.7 95.0,301.9 94.7,302.3 94.7,305.0 94.0,305.7 93.7,305.8 93.3,306.7 93.0,307.4 92.9,308.7 92.4,309.5 91.9,310.5" fill="#ff1a0a" stroke="#ff1a0a" stroke-width="0.8" stroke-linejoin="round"/>
<line x1="211.3" y1="302.4" x2="211.3" y2="306.4" stroke="#ff1a0a" stroke-width="0.9"/>
<line x1="178.9" y1="283.7" x2="178.9" y2="289.7" stroke="#ff1a0a" stroke-width="0.9"/>
<line x1="165.6" y1="272.6" x2="165.6" y2="277.1" stroke="#ff1a0a" stroke-width="0.9"/>
<line x1="254.8" y1="308.6" x2="254.8" y2="310.8" stroke="#ff1a0a" stroke-width="0.9"/>
<line x1="220.4" y1="303.5" x2="220.4" y2="308.5" stroke="#ff1a0a" stroke-width="0.9"/>
<line x1="169.1" y1="277.8" x2="169.1" y2="281.8" stroke="#ff1a0a" stroke-width="0.9"/>
<line x1="235.3" y1="305.8" x2="235.3" y2="310.1" stroke="#ff1a0a" stroke-width="0.9"/>
<line x1="237.5" y1="307.2" x2="237.5" y2="310.3" stroke="#ff1a0a" stroke-width="0.9"/>
<line x1="188.8" y1="293.3" x2="188.8" y2="296.2" stroke="#ff1a0a" stroke-width="0.9"/>
<line x1="215.6" y1="301.4" x2="215.6" y2="307.6" stroke="#ff1a0a" stroke-width="0.9"/>
<line x1="224.0" y1="303.5" x2="224.0" y2="309.1" stroke="#ff1a0a" stroke-width="0.9"/>
<line x1="203.4" y1="298.2" x2="203.4" y2="303.7" stroke="#ff1a0a" stroke-width="0.9"/>
<line x1="175.2" y1="283.5" x2="175.2" y2="287.1" stroke="#ff1a0a" stroke-width="0.9"/>
<line x1="232.4" y1="304.5" x2="232.4" y2="309.9" stroke="#ff1a0a" stroke-width="0.9"/>
<line x1="207.2" y1="302.2" x2="207.2" y2="305.0" stroke="#ff1a0a" stroke-width="0.9"/>
<line x1="191.7" y1="294.7" x2="191.7" y2="298.0" stroke="#ff1a0a" stroke-width="0.9"/>
<line x1="193.1" y1="293.1" x2="193.1" y2="298.9" stroke="#ff1a0a" stroke-width="0.9"/>
<line x1="184.9" y1="287.7" x2="184.9" y2="293.8" stroke="#ff1a0a" stroke-width="0.9"/>
<line x1="252.9" y1="308.6" x2="252.9" y2="310.8" stroke="#ff1a0a" stroke-width="0.9"/>
<line x1="202.9" y1="299.1" x2="202.9" y2="303.5" stroke="#ff1a0a" stroke-width="0.9"/>
<line x1="167.3" y1="275.4" x2="167.3" y2="279.6" stroke="#ff1a0a" stroke-width="0.9"/>
<line x1="255.6" y1="308.5" x2="255.6" y2="310.8" stroke="#ff1a0a" stroke-width="0.9"/>
<line x1="224.7" y1="306.3" x2="224.7" y2="309.2" stroke="#ff1a0a" stroke-width="0.9"/>
<line x1="222.9" y1="302.8" x2="222.9" y2="308.9" stroke="#ff1a0a" stroke-width="0.9"/>
<line x1="185.3" y1="291.5" x2="185.3" y2="294.0" stroke="#ff1a0a" stroke-width="0.9"/>
<line x1="173.4" y1="281.0" x2="173.4" y2="285.7" stroke="#ff1a0a" stroke-width="0.9"/>
<line x1="166.7" y1="276.0" x2="166.7" y2="278.8" stroke="#ff1a0a" stroke-width="0.9"/>
<line x1="214.7" y1="301.2" x2="214.7" y2="307.4" stroke="#ff1a0a" stroke-width="0.9"/>
<line x1="207.0" y1="300.9" x2="207.0" y2="305.0" stroke="#ff1a0a" stroke-width="0.9"/>
<line x1="228.9" y1="306.7" x2="228.9" y2="309.6" stroke="#ff1a0a" stroke-width="0.9"/>
<line x1="223.0" y1="305.7" x2="223.0" y2="308.9" stroke="#ff1a0a" stroke-width="0.9"/>
<line x1="225.9" y1="303.0" x2="225.9" y2="309.4" stroke="#ff1a0a" stroke-width="0.9"/>
<line x1="170.4" y1="278.6" x2="170.4" y2="283.3" stroke="#ff1a0a" stroke-width="0.9"/>
<line x1="225.6" y1="306.3" x2="225.6" y2="309.4" stroke="#ff1a0a" stroke-width="0.9"/>
<line x1="191.8" y1="291.6" x2="191.8" y2="298.1" stroke="#ff1a0a" stroke-width="0.9"/>
<line x1="264.8" y1="308.9" x2="264.8" y2="310.8" stroke="#ff1a0a" stroke-width="0.9"/>
<line x1="235.5" y1="303.8" x2="235.5" y2="310.1" stroke="#ff1a0a" stroke-width="0.9"/>
<line x1="188.7" y1="291.2" x2="188.7" y2="296.2" stroke="#ff1a0a" stroke-width="0.9"/>
<line x1="169.3" y1="278.1" x2="169.3" y2="282.1" stroke="#ff1a0a" stroke-width="0.9"/>
<line x1="232.4" y1="305.0" x2="232.4" y2="309.9" stroke="#ff1a0a" stroke-width="0.9"/>
<line x1="242.5" y1="307.8" x2="242.5" y2="310.7" stroke="#ff1a0a" stroke-width="0.9"/>
<line x1="199.7" y1="296.4" x2="199.7" y2="302.4" stroke="#ff1a0a" stroke-width="0.9"/>
<line x1="223.4" y1="304.7" x2="223.4" y2="309.0" stroke="#ff1a0a" stroke-width="0.9"/>
<line x1="205.2" y1="297.9" x2="205.2" y2="304.4" stroke="#ff1a0a" stroke-width="0.9"/>
<line x1="222.4" y1="306.3" x2="222.4" y2="308.8" stroke="#ff1a0a" stroke-width="0.9"/>
<line x1="244.9" y1="307.0" x2="244.9" y2="310.8" stroke="#ff1a0a" stroke-width="0.9"/>
<line x1="208.4" y1="302.1" x2="208.4" y2="305.4" stroke="#ff1a0a" stroke-width="0.9"/>
<line x1="209.4" y1="302.0" x2="209.4" y2="305.8" stroke="#ff1a0a" stroke-width="0.9"/>
<line x1="173.9" y1="281.1" x2="173.9" y2="286.1" stroke="#ff1a0a" stroke-width="0.9"/>
<line x1="175.3" y1="281.6" x2="175.3" y2="287.2" stroke="#ff1a0a" stroke-width="0.9"/>
<line x1="167.5" y1="274.2" x2="167.5" y2="279.8" stroke="#ff1a0a" stroke-width="0.9"/>
<line x1="245.8" y1="306.4" x2="245.8" y2="310.8" stroke="#ff1a0a" stroke-width="0.9"/>
<line x1="235.9" y1="306.7" x2="235.9" y2="310.2" stroke="#ff1a0a" stroke-width="0.9"/>
<line x1="238.8" y1="306.2" x2="238.8" y2="310.4" stroke="#ff1a0a" stroke-width="0.9"/>
<line x1="188.1" y1="289.4" x2="188.1" y2="295.8" stroke="#ff1a0a" stroke-width="0.9"/>
<line x1="205.1" y1="300.3" x2="205.1" y2="304.3" stroke="#ff1a0a" stroke-width="0.9"/>
<line x1="251.0" y1="307.2" x2="251.0" y2="310.8" stroke="#ff1a0a" stroke-width="0.9"/>
<line x1="231.8" y1="306.7" x2="231.8" y2="309.8" stroke="#ff1a0a" stroke-width="0.9"/>
<line x1="249.3" y1="307.5" x2="249.3" y2="310.8" stroke="#ff1a0a" stroke-width="0.9"/>
<line x1="170.1" y1="276.6" x2="170.1" y2="283.0" stroke="#ff1a0a" stroke-width="0.9"/>
<polyline points="73.4,302.4 73.4,304.1 73.0,305.7 73.3,306.6 73.5,307.6 73.6,308.9 73.8,310.1 74.8,310.0 76.0,310.2 77.0,310.2 78.0,310.1 78.9,309.5 79.8,309.5 80.6,308.7 82.0,306.9 82.7,306.5 84.1,306.6 85.1,306.3 85.9,305.8 86.5,305.8 87.6,303.6 88.3,302.2 88.3,302.0 89.0,301.0 89.1,299.3 89.4,300.2 89.2,297.4 90.0,295.7 89.6,295.4 90.6,295.1 90.1,294.0 90.7,292.9 90.8,292.1 91.4,290.7 92.0,289.1 91.6,288.4 91.7,287.8 91.8,287.4 92.5,285.7 92.5,285.1 93.0,282.3 93.5,281.8 93.5,280.7 93.0,281.0 93.6,279.7 93.5,278.0 94.0,276.4 94.5,276.0 94.2,274.4 94.4,273.5 94.4,272.1 94.4,270.8 94.9,270.2 95.8,268.8 95.1,268.7 95.9,268.9 95.2,267.8 95.4,267.3 96.0,264.0 96.2,263.4 96.0,264.2 96.3,262.5 96.6,260.4 96.8,259.8 97.9,259.5 97.9,257.9 98.0,257.4 97.2,256.0 97.4,255.1 97.8,254.2 97.6,253.4 97.5,252.5 96.9,250.7 97.6,250.3 97.3,248.7 97.8,248.3 97.8,247.4 97.6,245.9 97.7,244.1 97.7,242.2 98.1,241.7 99.1,241.6 99.1,240.5 99.6,239.9 99.6,239.7 99.4,239.0 99.7,237.2 99.9,236.3 100.7,235.6 100.1,233.4 100.1,233.3 100.6,231.4 100.6,231.5 100.7,229.3 100.6,227.8 101.1,227.1 101.6,225.8 101.7,225.2 101.6,224.6 102.1,223.8 101.5,222.6 101.3,222.0 101.1,221.5 101.1,219.8 102.0,219.8 101.4,218.8 102.3,217.0 102.6,216.6 102.8,214.7 102.7,213.2 102.8,212.4 103.2,210.8 103.0,210.7 103.1,208.8 103.5,208.8 103.4,207.8 103.8,207.8 102.7,206.2 103.1,204.4 104.0,203.7 104.1,202.2 104.1,201.7 103.5,200.3 103.5,199.6 103.8,198.6 103.9,197.5 104.4,197.6 104.5,196.6 104.9,194.6 105.1,194.3 105.1,192.4 105.5,191.6 105.2,190.8 106.3,190.3 106.0,189.3 105.3,188.7 105.6,186.9 105.9,186.6 105.8,185.4 105.9,184.0 107.2,183.1 106.5,181.5 106.9,181.4 107.4,180.2 107.1,179.9 106.3,178.1 107.2,175.6 106.9,173.0 106.7,173.6 107.2,173.3 107.3,171.6 107.3,170.1 107.5,169.2 108.0,168.7 108.4,169.5 108.0,168.7 108.2,167.1 108.0,165.5 108.3,165.5 108.1,164.2 108.6,163.4 108.7,162.7 109.5,161.1 109.6,160.3 109.4,159.8 109.7,158.3 109.5,156.8 110.0,155.7 109.7,155.1 109.8,152.8 109.4,152.1 109.9,150.4 110.3,149.6 110.0,148.0 110.8,148.3 111.1,147.7 111.2,146.6 111.2,145.2 111.0,144.7 110.8,142.9 110.9,141.7 111.5,141.4 111.6,140.8 111.3,138.7 111.8,139.1 111.5,137.8 112.1,136.9 111.8,135.9 112.3,134.1 112.3,132.4 111.9,132.0 111.9,130.5 112.5,129.4 112.5,128.0 111.3,126.3 111.9,125.6 112.1,124.2 112.4,123.9 113.2,122.9 113.2,122.1 113.1,120.6 113.6,119.3 113.7,118.5 113.2,119.1 113.3,117.9 113.5,116.7 113.8,114.3 113.5,113.5 113.5,113.0 113.9,112.2 114.4,111.1 114.1,110.5 114.0,109.0 114.4,107.3 114.7,108.2 115.1,106.2 115.6,105.3 115.3,104.3 114.9,102.8 115.3,102.3 114.9,102.0 115.1,98.8 114.8,98.3 115.2,97.7 115.4,97.2 115.0,95.6 114.9,94.8 115.8,92.9 115.7,92.1 115.7,92.1 116.2,91.2 116.4,92.7 116.5,92.9 116.5,94.3 117.0,95.5 117.0,95.7 117.0,96.7 117.2,97.3 117.5,100.1 118.5,100.7 118.9,101.7 119.3,102.1 119.8,103.7 119.5,103.7 119.0,104.2 119.5,105.3 120.1,106.6 120.3,108.2 120.7,108.5 121.0,109.6 121.6,110.1 121.7,111.9 121.7,113.3 122.1,114.4 122.2,115.3 122.7,116.3 122.5,117.1 122.5,117.8 122.5,119.4 122.9,121.4 123.5,121.5 123.9,122.7 123.5,122.7 124.4,124.4 124.0,124.3 124.7,125.7 124.5,126.9 124.3,127.1 124.3,128.3 125.0,129.7 125.2,130.8 124.5,132.9 125.1,132.9 125.7,134.7 125.5,135.1 125.2,135.9 125.6,137.2 125.2,139.6 125.4,140.4 125.2,142.2 125.0,141.5 125.6,143.0 126.4,142.5 127.1,144.4 127.2,145.2 127.3,147.7 127.5,146.7 127.4,148.1 127.0,148.6 127.1,149.8 126.8,149.9 127.8,150.6 127.5,152.4 128.0,153.2 127.4,153.8 127.5,154.6 127.8,156.3 128.0,157.7 128.2,158.9 128.2,160.1 128.5,161.6 128.4,163.2 128.8,163.0 128.6,165.2 128.6,165.8 129.5,166.5 129.4,167.9 129.8,168.6 129.8,169.7 129.8,168.9 130.0,170.0 129.7,171.4 129.9,172.9 130.4,174.3 131.1,174.0 130.6,174.8 130.8,175.9 131.0,177.7 131.5,180.3 131.4,180.5 131.4,180.4 132.1,181.9 131.9,182.9 131.5,183.7 132.4,183.6 132.3,185.0 132.4,186.7 132.0,187.7 132.7,188.8 132.9,189.2 133.0,190.1 132.9,191.5 132.8,191.9 133.1,192.5 133.2,195.5 133.5,195.9 134.0,196.0 134.4,197.7 134.0,198.8 134.4,199.3 134.1,200.6 134.3,200.5 134.6,202.1 134.4,202.9 134.1,205.1 134.5,206.5 134.5,207.8 134.6,209.6 134.6,210.5 135.5,210.3 135.8,210.1 136.1,211.5 136.1,211.9 136.5,214.1 136.9,214.5 136.7,216.0 137.2,218.0 136.8,217.8 137.5,219.4 137.9,219.9 138.3,220.9 138.4,222.1 139.1,222.9 139.2,223.6 138.6,224.5 138.7,225.1 138.4,226.6 139.5,228.2 139.4,229.4 139.8,230.6 140.4,231.7 140.0,232.5 140.4,232.0 140.5,233.1 140.4,234.6 140.5,235.2 139.9,235.6 140.5,236.8 141.9,237.6 141.6,240.4 141.9,240.4 141.4,242.5 142.4,244.0 142.0,243.8 141.7,243.7 142.6,245.6 142.8,246.2 142.8,246.0 142.9,248.1 142.8,249.2 143.6,250.5 143.2,251.9 143.4,251.2 144.4,253.1 144.9,254.8 145.6,256.0 145.1,256.5 145.5,257.7 146.3,258.6 146.0,259.1 146.0,259.1 145.8,260.4 146.4,262.6 147.1,262.1 147.1,264.6 147.8,266.0 148.2,266.5 148.4,267.4 148.6,268.5 148.6,269.4 149.5,271.3 150.1,271.9 149.9,273.5 149.9,273.0 150.9,274.2 151.1,276.0 151.7,275.4 152.8,275.6 153.5,276.9 153.9,278.0 154.3,280.0 155.2,280.3 155.2,282.3 156.1,282.6 156.7,282.9 157.0,282.9 157.2,282.3 157.6,283.9 158.4,285.2 158.8,286.5 159.1,288.0 159.8,289.1 160.4,289.7 161.0,289.5 161.9,290.8 163.0,291.0 163.5,291.3 164.9,293.1 165.2,293.5 165.5,294.3 165.7,295.3 166.4,295.8 167.5,296.3 168.2,296.9 169.0,298.9 169.8,298.7 170.5,298.1 171.5,298.8 172.3,300.3 173.5,300.6 174.1,299.9 175.6,299.3 176.5,300.8 177.1,300.4 177.7,302.6 179.2,302.7 180.5,302.9 181.3,302.1 182.4,303.4 182.9,303.6 183.6,302.6 185.5,303.6 186.4,303.1 187.7,303.6 188.3,304.5 189.4,304.7 190.4,304.6 191.0,304.9 192.2,305.1 192.9,304.9 193.6,305.1 194.9,305.7 196.0,306.6 196.7,306.7 198.2,305.6 198.9,306.2 199.7,307.6 200.5,307.2 201.6,307.6 202.6,307.6 204.2,307.4 204.8,307.7 206.2,307.4 207.3,307.1 207.8,307.6 209.0,306.8 210.3,306.8 211.1,307.3 211.8,307.0 212.9,307.1 214.3,307.1 214.9,306.3 216.4,307.4 217.4,307.1 218.5,307.3 219.3,307.4 220.1,307.9 220.8,308.3 221.7,308.4 222.5,308.5 223.7,308.6 224.7,308.6 225.7,308.7 227.1,308.4 228.0,308.2 228.9,308.0 230.1,307.6 231.3,308.1 232.1,308.7 233.1,309.0 233.9,309.2 235.3,309.1 236.0,309.1 237.2,309.1 238.0,309.4 239.0,309.8 240.2,309.6 241.0,309.4 241.9,309.8 242.9,310.0 244.0,309.9 245.2,310.5 246.1,310.1 247.0,310.1 248.0,310.3 249.0,310.3 250.0,310.1 251.1,310.4 252.1,310.0 253.0,310.2 253.8,310.3 255.1,310.2 256.0,310.5 257.1,310.5 258.0,310.7 259.1,310.6 260.1,310.7 261.1,310.7 262.1,310.7 263.1,310.8 264.0,310.8 264.8,310.7 265.9,310.8 267.0,310.8 268.0,310.9 269.0,310.7 269.9,310.6 270.9,310.7 271.8,310.8 272.8,310.5 273.8,310.6 274.9,310.3 276.0,310.5 277.0,310.5 278.0,310.5 278.9,310.6 280.0,310.7 281.0,310.6 282.0,310.6 283.0,310.8 284.0,310.8 284.9,310.7 286.0,310.8 287.0,310.8 287.9,310.9 288.9,310.8 290.0,310.6 291.0,310.5 292.0,310.7 293.0,310.8 293.9,310.7 294.9,310.6 295.9,310.7 297.0,310.7 298.1,310.7 299.2,310.6 300.0,310.7 301.2,310.8 302.0,310.6 303.0,310.6 303.9,310.5 305.0,310.7 306.0,310.7 306.9,310.5 308.0,310.7 308.9,310.6 309.9,310.8 311.0,310.8 312.0,310.7 313.0,310.7 314.0,310.7 315.0,310.7 316.0,310.9 317.0,310.7 318.0,310.8 319.0,310.8 320.0,310.8 320.9,310.8 322.0,310.5 323.0,310.6 324.0,310.8 324.9,310.9 326.0,310.8" fill="none" stroke="#2a1cff" stroke-width="1.5" stroke-linejoin="round" opacity="1.0"/>
<polyline points="76.0,305.2 76.0,305.6 76.3,306.5 76.1,307.6 76.3,309.1 76.4,310.0 76.4,310.9 77.5,310.9 78.7,310.9 79.7,310.7 80.6,310.7 81.6,310.1 82.8,309.5 83.9,308.9 84.9,308.3 85.7,307.5 86.8,307.2 87.9,306.1 88.5,305.7 88.9,304.8 89.1,303.9 90.0,303.1 90.7,302.8 91.7,300.8 91.7,300.2 92.2,299.2 92.3,298.3 92.4,297.6 92.8,296.9 92.7,295.9 93.2,294.7 93.2,293.4 93.1,292.2 93.7,291.2 93.8,290.6 93.9,289.1 94.5,287.5 94.9,285.3 95.4,286.2 95.8,285.4 95.6,284.1 95.5,282.7 95.4,282.0 95.5,280.9 96.1,280.1 96.7,279.3 96.8,277.9 96.8,276.8 97.1,275.0 97.3,274.6 97.5,271.8 98.0,271.2 98.2,270.8 97.3,269.7 98.3,268.7 97.8,267.2 97.9,267.7 97.7,267.5 98.1,266.3 98.7,264.3 98.7,262.5 98.7,262.4 98.4,261.2 99.3,260.7 99.2,259.7 99.4,259.0 99.3,257.7 99.4,256.8 99.8,254.9 100.1,253.6 99.8,253.7 99.8,253.0 100.8,251.7 101.0,251.1 101.1,250.1 101.6,248.2 100.8,246.7 101.0,246.2 101.4,244.8 101.7,243.4 101.4,242.7 101.4,242.4 102.0,242.0 102.1,241.0 101.6,240.1 102.0,239.2 102.2,236.8 102.3,235.3 102.2,235.8 102.1,234.7 103.2,233.6 103.0,233.0 103.1,231.6 102.8,230.2 103.4,229.1 103.9,228.0 103.5,227.3 103.3,226.3 103.4,225.4 102.9,224.5 103.7,223.3 103.5,222.3 103.8,221.2 104.4,220.4 104.2,220.1 104.7,219.4 104.9,218.5 105.2,216.9 105.2,215.6 105.6,214.7 105.7,213.6 105.3,212.1 105.4,211.8 105.1,211.3 105.3,209.8 105.4,207.7 105.8,207.2 105.7,206.8 105.6,205.0 105.8,203.6 106.2,202.7 105.9,202.3 106.1,201.1 106.3,199.8 106.2,199.3 106.1,198.2 106.9,198.1 107.1,196.0 107.0,195.0 107.2,193.4 107.4,193.3 107.5,191.6 107.5,191.0 107.4,191.1 107.7,189.8 108.2,189.0 108.6,187.7 108.7,186.3 108.8,186.0 108.6,184.4 108.6,183.1 108.8,182.5 108.5,181.6 108.5,181.0 108.6,179.7 109.2,179.4 109.7,178.8 110.1,176.6 110.0,175.2 110.3,174.6 110.7,173.1 111.1,171.3 110.6,170.5 110.8,169.3 110.9,169.2 110.8,168.1 110.8,167.1 111.2,166.2 110.9,164.7 110.8,164.5 110.9,164.0 111.0,162.8 110.9,161.2 111.7,160.9 111.7,159.2 111.7,158.2 112.9,158.3 112.6,156.5 112.9,155.4 112.7,154.7 112.3,153.3 113.4,151.9 112.8,151.0 112.6,149.7 112.6,148.7 112.7,147.9 113.2,147.0 113.0,145.8 113.4,144.1 113.4,143.0 114.0,143.0 113.8,142.2 113.8,140.6 113.7,139.3 113.6,138.6 113.7,137.3 114.1,136.6 114.6,135.7 114.4,134.2 114.7,133.1 115.2,132.6 115.0,131.2 115.1,130.4 114.9,129.4 115.3,128.2 115.3,127.3 115.4,125.6 115.3,125.0 115.8,124.2 115.8,123.3 115.7,121.2 116.0,120.6 116.5,119.7 116.1,118.8 116.5,117.7 116.9,116.5 116.8,116.6 116.9,115.5 116.6,114.5 117.0,113.3 116.7,112.7 117.4,111.0 117.5,110.2 117.1,108.5 117.6,106.5 117.1,105.6 117.2,105.1 117.5,104.4 117.1,104.2 117.2,102.5 118.0,101.3 117.7,100.4 117.6,99.6 117.7,98.7 118.6,97.4 117.9,96.4 117.5,94.6 118.4,94.0 118.7,93.3 118.2,92.3 118.4,91.6 118.7,92.5 118.9,92.7 119.2,94.9 119.1,96.7 119.7,96.9 120.7,97.7 121.3,98.1 121.7,98.8 121.9,100.1 122.4,100.3 122.5,100.6 122.7,102.0 123.7,103.2 123.9,104.7 123.8,107.0 124.0,108.2 124.3,109.0 124.9,109.1 124.8,110.4 125.1,111.7 125.3,112.6 126.4,113.3 126.2,113.7 126.4,115.3 126.5,116.9 126.8,118.2 127.0,118.9 127.6,118.9 127.9,120.9 127.9,121.8 127.7,123.1 128.0,123.6 128.6,124.7 128.8,125.1 128.6,127.3 128.2,127.4 128.6,128.5 128.8,129.3 129.2,130.0 129.1,131.0 129.5,132.3 129.1,133.8 129.2,134.3 129.2,135.6 129.7,136.7 129.5,137.9 130.0,137.8 130.4,139.2 130.2,140.1 130.4,141.1 130.3,142.2 131.1,142.1 131.1,142.5 131.2,144.7 130.8,146.2 131.0,147.7 130.7,148.9 130.4,150.3 130.8,150.5 131.1,151.1 131.0,152.3 131.1,153.7 131.4,155.1 131.8,155.9 131.5,156.3 131.8,157.2 132.1,158.5 132.2,160.0 132.0,161.0 132.6,162.2 132.8,162.6 133.1,164.0 133.3,165.0 134.0,166.4 134.0,166.7 133.8,167.2 134.1,167.2 134.2,168.3 134.0,170.3 134.3,171.5 134.6,172.3 134.5,173.8 134.1,174.2 134.8,175.9 134.5,176.8 134.7,178.1 135.5,178.9 135.6,179.4 135.3,180.1 135.7,181.3 135.5,182.2 135.7,182.8 135.8,183.7 136.2,185.1 136.0,185.8 136.4,187.4 136.6,188.6 136.9,190.1 137.0,190.2 137.3,191.4 137.2,192.9 137.2,194.0 137.4,194.7 137.9,195.6 137.7,197.2 138.3,197.6 138.3,198.6 137.9,199.7 138.9,200.8 138.8,201.9 139.0,203.3 139.2,204.2 139.0,204.8 138.8,205.7 139.3,207.2 139.7,207.6 139.4,207.0 139.4,208.5 139.9,210.6 139.7,211.2 140.0,212.0 140.5,213.5 140.7,214.5 141.4,214.3 141.7,214.9 141.5,216.8 141.5,218.7 142.0,219.5 141.9,220.3 142.7,221.2 143.1,223.1 143.3,223.6 142.9,224.5 143.6,226.4 143.5,227.6 143.9,227.5 144.3,228.7 144.4,230.8 143.7,231.0 144.1,231.3 143.7,232.2 144.2,233.5 145.1,234.8 145.6,235.5 145.4,236.3 146.0,238.2 145.8,239.4 146.2,239.5 145.9,240.3 146.2,240.6 146.6,242.1 147.0,243.9 146.6,244.8 146.3,245.1 146.7,246.6 147.1,246.9 147.4,248.3 147.3,248.9 147.3,250.7 147.2,252.4 147.4,252.1 147.9,254.0 148.0,254.5 148.5,255.8 149.4,257.0 149.4,258.3 149.7,259.0 149.8,259.2 150.4,260.1 150.7,261.4 151.3,262.7 151.4,263.7 152.1,264.5 151.7,264.1 152.3,265.5 152.6,267.0 153.3,266.9 153.3,267.9 153.7,268.6 153.6,269.4 153.9,270.7 154.4,271.2 155.3,271.9 155.7,273.3 155.9,274.1 156.3,276.4 157.0,277.4 157.6,277.6 158.2,278.1 158.5,278.7 159.0,280.0 159.9,281.6 160.7,282.3 160.4,283.1 161.2,283.6 161.8,284.1 162.0,285.5 162.3,284.7 163.2,286.6 163.4,287.5 164.2,288.4 164.7,289.9 165.8,290.3 166.2,291.9 167.2,292.1 167.7,293.4 168.2,294.3 168.6,295.0 169.4,294.9 170.3,295.8 171.4,297.2 171.4,298.1 172.6,297.8 173.3,298.4 174.6,299.0 175.4,300.3 176.2,299.9 176.6,301.7 177.8,301.5 178.8,301.9 179.7,301.7 180.6,302.3 182.1,302.5 182.8,301.8 183.8,302.6 184.4,303.0 184.9,303.5 185.9,304.2 187.0,304.5 188.2,304.5 189.4,305.6 190.7,304.2 191.7,304.5 192.5,304.9 193.4,304.7 194.6,305.4 195.8,305.5 196.6,305.9 197.5,305.6 198.0,306.1 198.9,306.3 199.9,306.8 201.0,307.1 202.4,306.6 203.5,306.4 204.5,306.6 205.5,306.8 206.2,307.4 206.9,307.8 208.1,307.7 209.7,307.5 210.1,307.3 211.0,307.8 212.1,307.7 213.0,308.1 214.3,308.1 215.4,308.1 216.3,308.0 217.2,307.9 218.2,308.1 219.5,308.3 220.0,308.3 220.9,308.2 221.8,308.0 223.3,308.3 224.4,308.2 225.3,308.5 226.3,308.7 227.1,308.8 228.0,309.0 229.3,309.3 230.5,308.6 231.0,308.9 232.2,309.1 233.2,308.9 234.3,309.1 235.3,309.2 236.2,309.2 237.4,309.5 238.5,309.8 239.7,309.5 240.7,309.6 241.4,309.6 242.3,309.7 243.3,309.7 244.2,309.7 245.2,309.8 246.2,309.7 247.3,309.9 248.3,309.9 249.4,309.9 250.4,310.2 251.5,310.2 252.5,310.5 253.5,310.5 254.3,310.5 255.3,310.5 256.3,310.6 257.3,310.9 258.3,310.9 259.3,310.9 260.3,310.9 261.4,310.9 262.5,310.9 263.3,310.9 264.3,310.9 265.3,310.9 266.2,310.9 267.3,310.9 268.3,310.9 269.3,310.9 270.4,310.9 271.2,310.9 272.3,310.9 273.3,310.9 274.3,310.9 275.3,310.9 276.2,310.9 277.3,310.9 278.3,310.9 279.2,310.9 280.3,310.9 281.3,310.9 282.3,310.9 283.4,310.9 284.3,310.9 285.2,310.9 286.3,310.9 287.3,310.9 288.3,310.9 289.4,310.9 290.4,310.9 291.3,310.9 292.3,310.9 293.3,310.9 294.4,310.9 295.4,310.9 296.5,310.9 297.4,310.9 298.5,310.9 299.4,310.9 300.3,310.9 301.4,310.9 302.4,310.9 303.4,310.9 304.2,310.9 305.2,310.9 306.2,310.9 307.3,310.9 308.3,310.9 309.3,310.9 310.3,310.9 311.3,310.9 312.3,310.9 313.3,310.9 314.3,310.9 315.3,310.9 316.3,310.9 317.3,310.9 318.3,310.9 319.3,310.9 320.3,310.9 321.3,310.9 322.3,310.9 323.3,310.9 324.3,310.9 325.3,310.9 326.3,310.9 327.2,310.9 328.3,310.9 329.3,310.9 330.4,310.9" fill="none" stroke="#4a40ff" stroke-width="1.1" stroke-linejoin="round" opacity="0.85"/>
<line x1="87.5" y1="306.2" x2="87.5" y2="311" stroke="#ff1a0a" stroke-width="0.9"/>
<line x1="91.7" y1="307.6" x2="91.7" y2="311" stroke="#ff1a0a" stroke-width="0.9"/>
<line x1="87.9" y1="305.5" x2="87.9" y2="311" stroke="#ff1a0a" stroke-width="0.9"/>
<line x1="93.3" y1="307.4" x2="93.3" y2="311" stroke="#ff1a0a" stroke-width="0.9"/>
<line x1="90.5" y1="309.3" x2="90.5" y2="311" stroke="#ff1a0a" stroke-width="0.9"/>
<line x1="86.0" y1="308.4" x2="86.0" y2="311" stroke="#ff1a0a" stroke-width="0.9"/>
<line x1="91.3" y1="310.5" x2="91.3" y2="311" stroke="#ff1a0a" stroke-width="0.9"/>
<line x1="93.1" y1="309.4" x2="93.1" y2="311" stroke="#ff1a0a" stroke-width="0.9"/>
<line x1="88.1" y1="310.7" x2="88.1" y2="311" stroke="#ff1a0a" stroke-width="0.9"/>
<line x1="95.0" y1="305.8" x2="95.0" y2="311" stroke="#ff1a0a" stroke-width="0.9"/>
<line x1="93.9" y1="306.7" x2="93.9" y2="311" stroke="#ff1a0a" stroke-width="0.9"/>
<line x1="86.3" y1="308.7" x2="86.3" y2="311" stroke="#ff1a0a" stroke-width="0.9"/>
<line x1="90.5" y1="310.2" x2="90.5" y2="311" stroke="#ff1a0a" stroke-width="0.9"/>
<line x1="94.6" y1="308.4" x2="94.6" y2="311" stroke="#ff1a0a" stroke-width="0.9"/>
<polygon points="176.8,293.5 178.0,287.5 179.2,293.5" fill="#ff1a0a"/>
<polygon points="183.3,295.0 184.5,289.0 185.7,295.0" fill="#ff1a0a"/>
<polygon points="189.8,293.8 191.0,287.8 192.2,293.8" fill="#ff1a0a"/>
<polygon points="194.8,298.0 196.0,292.0 197.2,298.0" fill="#ff1a0a"/>
<polygon points="204.3,303.5 205.5,297.5 206.7,303.5" fill="#ff1a0a"/>
<polygon points="212.8,307.0 214.0,301.0 215.2,307.0" fill="#ff1a0a"/>
<polygon points="226.8,310.5 228.0,304.5 229.2,310.5" fill="#ff1a0a"/>
<polygon points="241.8,312.5 243.0,306.5 244.2,312.5" fill="#ff1a0a"/>
</g>
<line x1="72.9" y1="57.6" x2="326.9" y2="57.6" stroke="#2a2a2a" stroke-width="1.2" stroke-linecap="butt"/>
<line x1="326.6" y1="57" x2="326.6" y2="311.9" stroke="#2a2a2a" stroke-width="1.2" stroke-linecap="butt"/>
<line x1="73.3" y1="57" x2="73.3" y2="311.9" stroke="#2a2a2a" stroke-width="1.3" stroke-linecap="butt"/>
<line x1="72.6" y1="311.3" x2="327.2" y2="311.3" stroke="#2a2a2a" stroke-width="1.3" stroke-linecap="butt"/>
<line x1="205" y1="311.1" x2="326.6" y2="311.1" stroke="#6a5ef2" stroke-width="1.2" stroke-linecap="butt"/>
<line x1="326.4" y1="305.5" x2="326.4" y2="309" stroke="#ff2a1a" stroke-width="1.2" stroke-linecap="butt"/>
<line x1="66.3" y1="311.2" x2="73" y2="311.2" stroke="#2a2a2a" stroke-width="1.1" stroke-linecap="butt"/>
<text transform="translate(58.93,315.74) scale(0.9000,1.040)" font-size="12.40" font-weight="normal" fill="#1e1a2a" stroke="#1e1a2a" stroke-width="0.2">0</text>
<line x1="66.3" y1="263.86" x2="73" y2="263.86" stroke="#2a2a2a" stroke-width="1.1" stroke-linecap="butt"/>
<text transform="translate(52.72,268.4) scale(0.9000,1.040)" font-size="12.40" font-weight="normal" fill="#1e1a2a" stroke="#1e1a2a" stroke-width="0.2">20</text>
<line x1="66.3" y1="216.52" x2="73" y2="216.52" stroke="#2a2a2a" stroke-width="1.1" stroke-linecap="butt"/>
<text transform="translate(52.72,221.06) scale(0.9000,1.040)" font-size="12.40" font-weight="normal" fill="#1e1a2a" stroke="#1e1a2a" stroke-width="0.2">40</text>
<line x1="66.3" y1="169.18" x2="73" y2="169.18" stroke="#2a2a2a" stroke-width="1.1" stroke-linecap="butt"/>
<text transform="translate(52.72,173.72) scale(0.9000,1.040)" font-size="12.40" font-weight="normal" fill="#1e1a2a" stroke="#1e1a2a" stroke-width="0.2">60</text>
<line x1="66.3" y1="121.84" x2="73" y2="121.84" stroke="#2a2a2a" stroke-width="1.1" stroke-linecap="butt"/>
<text transform="translate(52.72,126.38) scale(0.9000,1.040)" font-size="12.40" font-weight="normal" fill="#1e1a2a" stroke="#1e1a2a" stroke-width="0.2">80</text>
<line x1="66.3" y1="74.5" x2="73" y2="74.5" stroke="#2a2a2a" stroke-width="1.1" stroke-linecap="butt"/>
<text transform="translate(46.52,79.04) scale(0.9000,1.040)" font-size="12.40" font-weight="normal" fill="#1e1a2a" stroke="#1e1a2a" stroke-width="0.2">100</text>
<line x1="69.3" y1="287.53" x2="73" y2="287.53" stroke="#2a2a2a" stroke-width="1.0" stroke-linecap="butt"/>
<line x1="69.3" y1="240.19" x2="73" y2="240.19" stroke="#2a2a2a" stroke-width="1.0" stroke-linecap="butt"/>
<line x1="69.3" y1="192.85" x2="73" y2="192.85" stroke="#2a2a2a" stroke-width="1.0" stroke-linecap="butt"/>
<line x1="69.3" y1="145.51" x2="73" y2="145.51" stroke="#2a2a2a" stroke-width="1.0" stroke-linecap="butt"/>
<line x1="69.3" y1="98.17" x2="73" y2="98.17" stroke="#2a2a2a" stroke-width="1.0" stroke-linecap="butt"/>
<line x1="105" y1="311.2" x2="105" y2="316.3" stroke="#2a2a2a" stroke-width="1.1" stroke-linecap="butt"/>
<line x1="141.5" y1="311.2" x2="141.5" y2="316.3" stroke="#2a2a2a" stroke-width="1.1" stroke-linecap="butt"/>
<line x1="288.7" y1="311.2" x2="288.7" y2="316.3" stroke="#2a2a2a" stroke-width="1.1" stroke-linecap="butt"/>
<line x1="86.2" y1="311.2" x2="86.2" y2="313.6" stroke="#2a2a2a" stroke-width="1.0" stroke-linecap="butt"/>
<line x1="125" y1="311.2" x2="125" y2="313.6" stroke="#2a2a2a" stroke-width="1.0" stroke-linecap="butt"/>
<line x1="137.3" y1="311.2" x2="137.3" y2="313.6" stroke="#2a2a2a" stroke-width="1.0" stroke-linecap="butt"/>
<line x1="171.9" y1="311.2" x2="171.9" y2="313.6" stroke="#2a2a2a" stroke-width="1.0" stroke-linecap="butt"/>
<line x1="198.5" y1="311.2" x2="198.5" y2="313.6" stroke="#2a2a2a" stroke-width="1.0" stroke-linecap="butt"/>
<line x1="218.8" y1="311.2" x2="218.8" y2="313.6" stroke="#2a2a2a" stroke-width="1.0" stroke-linecap="butt"/>
<line x1="235.2" y1="311.2" x2="235.2" y2="313.6" stroke="#2a2a2a" stroke-width="1.0" stroke-linecap="butt"/>
<line x1="248.6" y1="311.2" x2="248.6" y2="313.6" stroke="#2a2a2a" stroke-width="1.0" stroke-linecap="butt"/>
<line x1="260.5" y1="311.2" x2="260.5" y2="313.6" stroke="#2a2a2a" stroke-width="1.0" stroke-linecap="butt"/>
<line x1="271.2" y1="311.2" x2="271.2" y2="313.6" stroke="#2a2a2a" stroke-width="1.0" stroke-linecap="butt"/>
<line x1="280.3" y1="311.2" x2="280.3" y2="313.6" stroke="#2a2a2a" stroke-width="1.0" stroke-linecap="butt"/>
<text transform="translate(101.63,329.38) scale(1,1.040)" font-size="11.40" font-weight="normal" fill="#1e1a2a" stroke="#1e1a2a" stroke-width="0.2">0</text>
<text transform="translate(133.53,329.2) scale(1.0000,1.040)" font-size="11.40" font-weight="normal" fill="#1e1a2a" stroke="#1e1a2a" stroke-width="0.2">10</text>
<text transform="translate(146.5,325.2) scale(1.0000,1.040)" font-size="7.80" font-weight="normal" fill="#1e1a2a" stroke="#1e1a2a" stroke-width="0.2">3</text>
<text transform="translate(280.53,329.2) scale(1.0000,1.040)" font-size="11.40" font-weight="normal" fill="#1e1a2a" stroke="#1e1a2a" stroke-width="0.2">10</text>
<text transform="translate(293.62,325.2) scale(1.0000,1.040)" font-size="7.80" font-weight="normal" fill="#1e1a2a" stroke="#1e1a2a" stroke-width="0.2">4</text>
<text transform="translate(120.05,354.3) scale(1.0000,1.040)" font-size="15.64" font-weight="bold" fill="#000" stroke="#000" stroke-width="0.3">Human IgG Fc-PE</text>
<text transform="translate(31.9,301.29) rotate(-90) scale(1.0000,1.000)" font-size="15.48" font-weight="bold" fill="#000" stroke="#000" stroke-width="0.3">%Max Fluorescence intensity</text>
<rect x="179.2" y="64.9" width="141.2" height="137.4" fill="#fff" stroke="#000" stroke-width="2"/>
<rect x="189.2" y="70.9" width="11.6" height="11.2" fill="#828282" stroke="none" stroke-width="0"/>
<text transform="translate(206.22,81.6) scale(1.0000,1.040)" font-size="15.25" font-weight="normal" fill="#828282" stroke="#828282" stroke-width="0.2">Unstained</text>
<rect x="189.2" y="89.6" width="11.6" height="11.2" fill="#2418f4" stroke="none" stroke-width="0"/>
<text transform="translate(206.63,100.3) scale(1.0000,1.040)" font-size="15.25" font-weight="normal" fill="#2418f4" stroke="#2418f4" stroke-width="0.2">Control IgG</text>
<rect x="189.2" y="107.6" width="11.6" height="11.2" fill="#ff1c0c" stroke="none" stroke-width="0"/>
<text transform="translate(207.37,118.7) scale(1.0000,1.040)" font-size="15.25" font-weight="normal" fill="#ff1c0c" stroke="#ff1c0c" stroke-width="0.2">Anti-CCR8 IgG</text>
<rect x="189.2" y="126.2" width="11.6" height="11.2" fill="#8ce0f6" stroke="none" stroke-width="0"/>
<text transform="translate(206.63,137.1) scale(1.0000,1.040)" font-size="15.25" font-weight="normal" fill="#8ce0f6" stroke="#8ce0f6" stroke-width="0.2">Control IgG</text>
<text transform="translate(208.76,155.6) scale(1.0000,1.040)" font-size="15.25" font-weight="normal" fill="#8ce0f6" stroke="#8ce0f6" stroke-width="0.2">+Blocking IgG</text>
<rect x="189.2" y="163.6" width="11.6" height="11.2" fill="#f07a7c" stroke="none" stroke-width="0"/>
<text transform="translate(207.37,174) scale(1.0000,1.040)" font-size="15.25" font-weight="normal" fill="#f07a7c" stroke="#f07a7c" stroke-width="0.2">Anti-CCR8 IgG</text>
<text transform="translate(208.76,192.5) scale(1.0000,1.040)" font-size="15.25" font-weight="normal" fill="#f07a7c" stroke="#f07a7c" stroke-width="0.2">+Blocking IgG</text>
<text transform="translate(510.26,35.9) scale(1.0000,1.040)" font-size="18.04" font-weight="bold" fill="#000" stroke="#000" stroke-width="0.3">Cell-based</text>
<text transform="translate(456.47,57.7) scale(1.0000,1.040)" font-size="18.06" font-weight="bold" fill="#000" stroke="#000" stroke-width="0.3">autoantibody detection</text>
<line x1="473.7" y1="130" x2="473.7" y2="271.4" stroke="#000" stroke-width="1.6" stroke-linecap="butt"/>
<line x1="473" y1="270.7" x2="683.7" y2="270.7" stroke="#000" stroke-width="1.6" stroke-linecap="butt"/>
<line x1="467.9" y1="130.6" x2="473.7" y2="130.6" stroke="#000" stroke-width="1.5" stroke-linecap="butt"/>
<text transform="translate(446.42,135.26) scale(1.0000,1.040)" font-size="13.20" font-weight="bold" fill="#000" stroke="#000" stroke-width="0.3">1.5</text>
<line x1="467.9" y1="177.3" x2="473.7" y2="177.3" stroke="#000" stroke-width="1.5" stroke-linecap="butt"/>
<text transform="translate(446.59,182.03) scale(1.0000,1.040)" font-size="13.20" font-weight="bold" fill="#000" stroke="#000" stroke-width="0.3">1.0</text>
<line x1="467.9" y1="224" x2="473.7" y2="224" stroke="#000" stroke-width="1.5" stroke-linecap="butt"/>
<text transform="translate(446.42,228.73) scale(1.0000,1.040)" font-size="13.20" font-weight="bold" fill="#000" stroke="#000" stroke-width="0.3">0.5</text>
<line x1="467.9" y1="270.7" x2="473.7" y2="270.7" stroke="#000" stroke-width="1.5" stroke-linecap="butt"/>
<text transform="translate(446.59,275.43) scale(1.0000,1.040)" font-size="13.20" font-weight="bold" fill="#000" stroke="#000" stroke-width="0.3">0.0</text>
<text transform="translate(440.3,236.99) rotate(-90) scale(0.9666,1.040)" font-size="13.70" font-weight="bold" fill="#000" stroke="#000" stroke-width="0.3">Relative MFI</text>
<line x1="499.6" y1="270.7" x2="499.6" y2="276.5" stroke="#000" stroke-width="1.3" stroke-linecap="butt"/>
<rect x="487.6" y="178.7" width="24" height="92" fill="#ffffff" stroke="#000" stroke-width="2.0"/>
<line x1="539.1" y1="270.7" x2="539.1" y2="276.5" stroke="#000" stroke-width="1.3" stroke-linecap="butt"/>
<rect x="527.1" y="189.2" width="24" height="81.5" fill="#2a1ef8" stroke="#000" stroke-width="2.0"/>
<line x1="578.6" y1="270.7" x2="578.6" y2="276.5" stroke="#000" stroke-width="1.3" stroke-linecap="butt"/>
<rect x="566.6" y="168.5" width="24" height="102.2" fill="#fb2c12" stroke="#000" stroke-width="2.0"/>
<line x1="618" y1="270.7" x2="618" y2="276.5" stroke="#000" stroke-width="1.3" stroke-linecap="butt"/>
<rect x="606" y="184.8" width="24" height="85.9" fill="#8fe3f8" stroke="#000" stroke-width="2.0"/>
<line x1="657.1" y1="270.7" x2="657.1" y2="276.5" stroke="#000" stroke-width="1.3" stroke-linecap="butt"/>
<rect x="645.1" y="184.4" width="24" height="86.3" fill="#f17476" stroke="#000" stroke-width="2.0"/>
<line x1="499.6" y1="171" x2="499.6" y2="184.4" stroke="#222" stroke-width="1.1" stroke-linecap="butt"/>
<line x1="493" y1="171" x2="506.2" y2="171" stroke="#333" stroke-width="1.1" stroke-linecap="butt"/>
<line x1="493" y1="184.4" x2="506.2" y2="184.4" stroke="#333" stroke-width="1.1" stroke-linecap="butt"/>
<line x1="539.1" y1="179.6" x2="539.1" y2="196.4" stroke="#222" stroke-width="1.1" stroke-linecap="butt"/>
<line x1="532.5" y1="179.6" x2="545.7" y2="179.6" stroke="#333" stroke-width="1.1" stroke-linecap="butt"/>
<line x1="532.5" y1="196.4" x2="545.7" y2="196.4" stroke="#333" stroke-width="1.1" stroke-linecap="butt"/>
<line x1="578.6" y1="160.9" x2="578.6" y2="172.3" stroke="#222" stroke-width="1.1" stroke-linecap="butt"/>
<line x1="572" y1="160.9" x2="585.2" y2="160.9" stroke="#333" stroke-width="1.1" stroke-linecap="butt"/>
<line x1="572" y1="172.3" x2="585.2" y2="172.3" stroke="#333" stroke-width="1.1" stroke-linecap="butt"/>
<line x1="618" y1="168.3" x2="618" y2="198.3" stroke="#222" stroke-width="1.1" stroke-linecap="butt"/>
<line x1="611.4" y1="168.3" x2="624.6" y2="168.3" stroke="#333" stroke-width="1.1" stroke-linecap="butt"/>
<line x1="611.4" y1="198.3" x2="624.6" y2="198.3" stroke="#333" stroke-width="1.1" stroke-linecap="butt"/>
<line x1="657.1" y1="178.8" x2="657.1" y2="186.3" stroke="#222" stroke-width="1.1" stroke-linecap="butt"/>
<line x1="650.5" y1="178.8" x2="663.7" y2="178.8" stroke="#333" stroke-width="1.1" stroke-linecap="butt"/>
<line x1="650.5" y1="186.3" x2="663.7" y2="186.3" stroke="#333" stroke-width="1.1" stroke-linecap="butt"/>
<circle cx="499.7" cy="168" r="2.75" fill="#000"/>
<circle cx="499.7" cy="178.7" r="2.75" fill="#000"/>
<circle cx="510.2" cy="178.7" r="2.75" fill="#000"/>
<circle cx="489.1" cy="184.1" r="2.75" fill="#000"/>
<circle cx="533.3" cy="184.2" r="2.75" fill="#000"/>
<circle cx="545" cy="179.1" r="2.75" fill="#000"/>
<circle cx="545.4" cy="188.4" r="2.75" fill="#000"/>
<circle cx="539.1" cy="199.4" r="2.75" fill="#000"/>
<circle cx="568.2" cy="161.9" r="2.75" fill="#000"/>
<circle cx="578.5" cy="166.1" r="2.75" fill="#000"/>
<circle cx="589.1" cy="163.8" r="2.75" fill="#000"/>
<circle cx="578.5" cy="175.5" r="2.75" fill="#000"/>
<circle cx="618" cy="166.1" r="2.75" fill="#000"/>
<circle cx="618" cy="177.6" r="2.75" fill="#000"/>
<circle cx="618" cy="186.3" r="2.75" fill="#000"/>
<circle cx="618" cy="202.1" r="2.75" fill="#000"/>
<circle cx="646.9" cy="178.2" r="2.75" fill="#000"/>
<circle cx="657.1" cy="181.4" r="2.75" fill="#000"/>
<circle cx="667.4" cy="182.7" r="2.75" fill="#000"/>
<circle cx="646.9" cy="188.2" r="2.75" fill="#000"/>
<polyline points="539.2,91.5 539.2,84 618,84 618,122.2" fill="none" stroke="#000" stroke-width="1.5" stroke-linejoin="miter"/>
<polyline points="539.2,122.2 539.2,114 578.6,114 578.6,122.2" fill="none" stroke="#000" stroke-width="1.5" stroke-linejoin="miter"/>
<polyline points="499.4,159.7 499.4,144.7 536.3,144.7 536.3,170.9" fill="none" stroke="#000" stroke-width="1.5" stroke-linejoin="miter"/>
<polyline points="541.9,170.9 541.9,144.7 657.1,144.7 657.1,170.8" fill="none" stroke="#000" stroke-width="1.5" stroke-linejoin="miter"/>
<text transform="translate(550.26,76.6) scale(1.0000,1.040)" font-size="11.51" font-weight="normal" fill="#000" stroke="#000" stroke-width="0.2">P = 0.9660</text>
<text transform="translate(530.35,106.7) scale(1.0000,1.040)" font-size="11.52" font-weight="normal" fill="#000" stroke="#000" stroke-width="0.2">P = 0.0303</text>
<text transform="translate(489.45,137.4) scale(1.0000,1.040)" font-size="11.52" font-weight="normal" fill="#000" stroke="#000" stroke-width="0.2">P = 0.3023</text>
<text transform="translate(571.27,137.4) scale(1.0000,1.040)" font-size="11.38" font-weight="normal" fill="#000" stroke="#000" stroke-width="0.2">P = 0.7240</text>
<text transform="translate(349.36,292.3) scale(1.0000,1.040)" font-size="15.57" font-weight="bold" fill="#000" stroke="#000" stroke-width="0.3">Control IgG</text>
<text transform="translate(349.61,329.9) scale(1.0000,1.040)" font-size="15.52" font-weight="bold" fill="#000" stroke="#000" stroke-width="0.3">Anti-CCR8 IgG</text>
<text transform="translate(348.95,367.7) scale(1.0000,1.040)" font-size="15.67" font-weight="bold" fill="#000" stroke="#000" stroke-width="0.3">Blocking IgG</text>
<rect x="498" y="287.2" width="4.6" height="2" fill="#000" stroke="none" stroke-width="0"/>
<rect x="531.7" y="287.15" width="8.2" height="2.1" fill="#000" stroke="none" stroke-width="0"/>
<rect x="534.75" y="284.1" width="2.1" height="8.2" fill="#000" stroke="none" stroke-width="0"/>
<rect x="573.7" y="287.2" width="4.6" height="2" fill="#000" stroke="none" stroke-width="0"/>
<rect x="613.2" y="287.15" width="8.2" height="2.1" fill="#000" stroke="none" stroke-width="0"/>
<rect x="616.25" y="284.1" width="2.1" height="8.2" fill="#000" stroke="none" stroke-width="0"/>
<rect x="655.2" y="287.2" width="4.6" height="2" fill="#000" stroke="none" stroke-width="0"/>
<rect x="498" y="325" width="4.6" height="2" fill="#000" stroke="none" stroke-width="0"/>
<rect x="533.5" y="325" width="4.6" height="2" fill="#000" stroke="none" stroke-width="0"/>
<rect x="571.9" y="324.95" width="8.2" height="2.1" fill="#000" stroke="none" stroke-width="0"/>
<rect x="574.95" y="321.9" width="2.1" height="8.2" fill="#000" stroke="none" stroke-width="0"/>
<rect x="615" y="325" width="4.6" height="2" fill="#000" stroke="none" stroke-width="0"/>
<rect x="653.4" y="324.95" width="8.2" height="2.1" fill="#000" stroke="none" stroke-width="0"/>
<rect x="656.45" y="321.9" width="2.1" height="8.2" fill="#000" stroke="none" stroke-width="0"/>
<rect x="498" y="363.3" width="4.6" height="2" fill="#000" stroke="none" stroke-width="0"/>
<rect x="533.5" y="363.3" width="4.6" height="2" fill="#000" stroke="none" stroke-width="0"/>
<rect x="573.7" y="363.3" width="4.6" height="2" fill="#000" stroke="none" stroke-width="0"/>
<rect x="613.2" y="363.25" width="8.2" height="2.1" fill="#000" stroke="none" stroke-width="0"/>
<rect x="616.25" y="360.2" width="2.1" height="8.2" fill="#000" stroke="none" stroke-width="0"/>
<rect x="653.4" y="363.25" width="8.2" height="2.1" fill="#000" stroke="none" stroke-width="0"/>
<rect x="656.45" y="360.2" width="2.1" height="8.2" fill="#000" stroke="none" stroke-width="0"/>
<text transform="translate(93.68,441.7) scale(1.0000,1.040)" font-size="16.69" font-weight="bold" fill="#000" stroke="#000" stroke-width="0.3">ERK phosphorylation assay</text>
<line x1="117.3" y1="567.6" x2="117.3" y2="745.1" stroke="#000" stroke-width="1.9" stroke-linecap="butt"/>
<line x1="116.4" y1="744.2" x2="292.9" y2="744.2" stroke="#000" stroke-width="1.9" stroke-linecap="butt"/>
<line x1="109.3" y1="568.2" x2="117.3" y2="568.2" stroke="#000" stroke-width="1.8" stroke-linecap="butt"/>
<text transform="translate(88.86,573.15) scale(1.0000,1.040)" font-size="13.00" font-weight="bold" fill="#000" stroke="#000" stroke-width="0.3">2.0</text>
<line x1="109.3" y1="612.2" x2="117.3" y2="612.2" stroke="#000" stroke-width="1.8" stroke-linecap="butt"/>
<text transform="translate(88.69,617.08) scale(1.0000,1.040)" font-size="13.00" font-weight="bold" fill="#000" stroke="#000" stroke-width="0.3">1.5</text>
<line x1="109.3" y1="656.2" x2="117.3" y2="656.2" stroke="#000" stroke-width="1.8" stroke-linecap="butt"/>
<text transform="translate(88.86,661.15) scale(1.0000,1.040)" font-size="13.00" font-weight="bold" fill="#000" stroke="#000" stroke-width="0.3">1.0</text>
<line x1="109.3" y1="700.2" x2="117.3" y2="700.2" stroke="#000" stroke-width="1.8" stroke-linecap="butt"/>
<text transform="translate(88.69,705.15) scale(1.0000,1.040)" font-size="13.00" font-weight="bold" fill="#000" stroke="#000" stroke-width="0.3">0.5</text>
<line x1="109.3" y1="744.2" x2="117.3" y2="744.2" stroke="#000" stroke-width="1.8" stroke-linecap="butt"/>
<text transform="translate(88.86,749.15) scale(1.0000,1.040)" font-size="13.00" font-weight="bold" fill="#000" stroke="#000" stroke-width="0.3">0.0</text>
<text transform="translate(79.9,736.14) rotate(-90) scale(1.0000,1.040)" font-size="14.19" font-weight="bold" fill="#000" stroke="#000" stroke-width="0.3">pERK/ERK ELISA index</text>
<line x1="144" y1="744.2" x2="144" y2="751.5" stroke="#000" stroke-width="1.6" stroke-linecap="butt"/>
<rect x="131.7" y="704.4" width="24.6" height="39.8" fill="#ffffff" stroke="#000" stroke-width="2.5"/>
<line x1="184.4" y1="744.2" x2="184.4" y2="751.5" stroke="#000" stroke-width="1.6" stroke-linecap="butt"/>
<rect x="172.1" y="611.2" width="24.6" height="133" fill="#b0b0b3" stroke="#000" stroke-width="2.5"/>
<line x1="225.2" y1="744.2" x2="225.2" y2="751.5" stroke="#000" stroke-width="1.6" stroke-linecap="butt"/>
<rect x="212.9" y="652.3" width="24.6" height="91.9" fill="#2a1ef8" stroke="#000" stroke-width="2.5"/>
<line x1="265.9" y1="744.2" x2="265.9" y2="751.5" stroke="#000" stroke-width="1.6" stroke-linecap="butt"/>
<rect x="253.6" y="662.9" width="24.6" height="81.3" fill="#fb2c12" stroke="#000" stroke-width="2.5"/>
<line x1="144" y1="691.4" x2="144" y2="716.4" stroke="#111" stroke-width="1.3" stroke-linecap="butt"/>
<line x1="137" y1="691.4" x2="151" y2="691.4" stroke="#111" stroke-width="1.3" stroke-linecap="butt"/>
<line x1="137" y1="716.4" x2="151" y2="716.4" stroke="#111" stroke-width="1.3" stroke-linecap="butt"/>
<line x1="184.4" y1="586.4" x2="184.4" y2="634.1" stroke="#111" stroke-width="1.3" stroke-linecap="butt"/>
<line x1="177.4" y1="586.4" x2="191.4" y2="586.4" stroke="#111" stroke-width="1.3" stroke-linecap="butt"/>
<line x1="177.4" y1="634.1" x2="191.4" y2="634.1" stroke="#111" stroke-width="1.3" stroke-linecap="butt"/>
<line x1="225.2" y1="608.3" x2="225.2" y2="690.9" stroke="#111" stroke-width="1.3" stroke-linecap="butt"/>
<line x1="218.2" y1="608.3" x2="232.2" y2="608.3" stroke="#111" stroke-width="1.3" stroke-linecap="butt"/>
<line x1="218.2" y1="690.9" x2="232.2" y2="690.9" stroke="#111" stroke-width="1.3" stroke-linecap="butt"/>
<line x1="265.9" y1="632.4" x2="265.9" y2="689.4" stroke="#111" stroke-width="1.3" stroke-linecap="butt"/>
<line x1="258.9" y1="632.4" x2="272.9" y2="632.4" stroke="#111" stroke-width="1.3" stroke-linecap="butt"/>
<line x1="258.9" y1="689.4" x2="272.9" y2="689.4" stroke="#111" stroke-width="1.3" stroke-linecap="butt"/>
<circle cx="137" cy="687.7" r="3.5" fill="#000"/>
<circle cx="143.7" cy="687.7" r="3.5" fill="#000"/>
<circle cx="150.6" cy="687" r="3.5" fill="#000"/>
<circle cx="134" cy="706.5" r="3.5" fill="#000"/>
<circle cx="140.1" cy="711.1" r="3.5" fill="#000"/>
<circle cx="146.8" cy="712.8" r="3.5" fill="#000"/>
<circle cx="153.5" cy="712.5" r="3.5" fill="#000"/>
<circle cx="133.8" cy="717.8" r="3.5" fill="#000"/>
<circle cx="174.4" cy="582.5" r="3.5" fill="#000"/>
<circle cx="194.1" cy="577" r="3.5" fill="#000"/>
<circle cx="184.3" cy="589.3" r="3.5" fill="#000"/>
<circle cx="184.3" cy="610.2" r="3.5" fill="#000"/>
<circle cx="174.4" cy="623.3" r="3.5" fill="#000"/>
<circle cx="194.1" cy="622" r="3.5" fill="#000"/>
<circle cx="194.1" cy="634.3" r="3.5" fill="#000"/>
<circle cx="174.4" cy="640.5" r="3.5" fill="#000"/>
<circle cx="214.6" cy="608.3" r="3.5" fill="#000"/>
<circle cx="221.5" cy="608.3" r="3.5" fill="#000"/>
<circle cx="221.5" cy="615.2" r="3.5" fill="#000"/>
<circle cx="228.4" cy="612.7" r="3.5" fill="#000"/>
<circle cx="214.6" cy="690.9" r="3.5" fill="#000"/>
<circle cx="221.5" cy="690.9" r="3.5" fill="#000"/>
<circle cx="228.4" cy="690.9" r="3.5" fill="#000"/>
<circle cx="234.6" cy="690.9" r="3.5" fill="#000"/>
<circle cx="265.8" cy="618.8" r="3.5" fill="#000"/>
<circle cx="275.6" cy="630.6" r="3.5" fill="#000"/>
<circle cx="265.5" cy="635.8" r="3.5" fill="#000"/>
<circle cx="265.8" cy="667.5" r="3.5" fill="#000"/>
<circle cx="255.5" cy="677.9" r="3.5" fill="#000"/>
<circle cx="265.8" cy="680.8" r="3.5" fill="#000"/>
<circle cx="275.2" cy="677.9" r="3.5" fill="#000"/>
<circle cx="265.8" cy="698" r="3.5" fill="#000"/>
<polyline points="184.4,490.7 184.4,480.2 265.9,480.2 265.9,609" fill="none" stroke="#000" stroke-width="2.0" stroke-linejoin="miter"/>
<polyline points="144,676.6 144,518.8 184.4,518.8 184.4,528.3" fill="none" stroke="#000" stroke-width="2.0" stroke-linejoin="miter"/>
<polyline points="184.4,567.7 184.4,557 225.2,557 225.2,597.2" fill="none" stroke="#000" stroke-width="2.0" stroke-linejoin="miter"/>
<text transform="translate(190.35,471) scale(1.0000,1.040)" font-size="14.03" font-weight="normal" fill="#000" stroke="#000" stroke-width="0.2">P = 0.0051</text>
<text transform="translate(129.35,509.1) scale(1.0000,1.040)" font-size="13.98" font-weight="normal" fill="#000" stroke="#000" stroke-width="0.2">P &lt; 0.0001</text>
<text transform="translate(169.83,547.2) scale(1.0000,1.040)" font-size="14.30" font-weight="normal" fill="#000" stroke="#000" stroke-width="0.2">P = 0.1059</text>
<text transform="translate(6.08,774.1) scale(1.0000,1.040)" font-size="15.14" font-weight="bold" fill="#000" stroke="#000" stroke-width="0.3">CCL1</text>
<text transform="translate(6.06,811.8) scale(1.0000,1.040)" font-size="15.72" font-weight="bold" fill="#000" stroke="#000" stroke-width="0.3">Control IgG</text>
<text transform="translate(6.31,849.5) scale(1.0000,1.040)" font-size="15.50" font-weight="bold" fill="#000" stroke="#000" stroke-width="0.3">Anti-CCR8 IgG</text>
<rect x="142.8" y="769.25" width="5" height="2.3" fill="#000" stroke="none" stroke-width="0"/>
<rect x="179.9" y="769.35" width="8.8" height="2.1" fill="#000" stroke="none" stroke-width="0"/>
<rect x="183.25" y="766" width="2.1" height="8.8" fill="#000" stroke="none" stroke-width="0"/>
<rect x="220.9" y="769.35" width="8.8" height="2.1" fill="#000" stroke="none" stroke-width="0"/>
<rect x="224.25" y="766" width="2.1" height="8.8" fill="#000" stroke="none" stroke-width="0"/>
<rect x="262.2" y="769.35" width="8.8" height="2.1" fill="#000" stroke="none" stroke-width="0"/>
<rect x="265.55" y="766" width="2.1" height="8.8" fill="#000" stroke="none" stroke-width="0"/>
<rect x="142.8" y="806.35" width="5" height="2.3" fill="#000" stroke="none" stroke-width="0"/>
<rect x="181.8" y="806.35" width="5" height="2.3" fill="#000" stroke="none" stroke-width="0"/>
<rect x="220.9" y="806.45" width="8.8" height="2.1" fill="#000" stroke="none" stroke-width="0"/>
<rect x="224.25" y="803.1" width="2.1" height="8.8" fill="#000" stroke="none" stroke-width="0"/>
<rect x="264.1" y="806.35" width="5" height="2.3" fill="#000" stroke="none" stroke-width="0"/>
<rect x="142.8" y="843.95" width="5" height="2.3" fill="#000" stroke="none" stroke-width="0"/>
<rect x="181.8" y="843.95" width="5" height="2.3" fill="#000" stroke="none" stroke-width="0"/>
<rect x="222.8" y="843.95" width="5" height="2.3" fill="#000" stroke="none" stroke-width="0"/>
<rect x="262.2" y="844.05" width="8.8" height="2.1" fill="#000" stroke="none" stroke-width="0"/>
<rect x="265.55" y="840.7" width="2.1" height="8.8" fill="#000" stroke="none" stroke-width="0"/>
<text transform="translate(487.6,442.2) scale(1.0000,1.040)" font-size="17.60" font-weight="bold" fill="#000" stroke="#000" stroke-width="0.3">Treg migration assay</text>
<line x1="487.3" y1="557" x2="487.3" y2="747.5" stroke="#000" stroke-width="1.9" stroke-linecap="butt"/>
<line x1="486.4" y1="746.6" x2="664.7" y2="746.6" stroke="#000" stroke-width="1.9" stroke-linecap="butt"/>
<line x1="478.8" y1="558.1" x2="487.3" y2="558.1" stroke="#000" stroke-width="1.8" stroke-linecap="butt"/>
<text transform="translate(435.3,564.54) scale(1.0000,1.040)" font-size="18.00" font-weight="bold" fill="#000" stroke="#000" stroke-width="0.3">5000</text>
<line x1="478.8" y1="595.8" x2="487.3" y2="595.8" stroke="#000" stroke-width="1.8" stroke-linecap="butt"/>
<text transform="translate(435.3,602.24) scale(1.0000,1.040)" font-size="18.00" font-weight="bold" fill="#000" stroke="#000" stroke-width="0.3">4000</text>
<line x1="478.8" y1="633.5" x2="487.3" y2="633.5" stroke="#000" stroke-width="1.8" stroke-linecap="butt"/>
<text transform="translate(435.3,639.93) scale(1.0000,1.040)" font-size="18.00" font-weight="bold" fill="#000" stroke="#000" stroke-width="0.3">3000</text>
<line x1="478.8" y1="671.2" x2="487.3" y2="671.2" stroke="#000" stroke-width="1.8" stroke-linecap="butt"/>
<text transform="translate(435.3,677.64) scale(1.0000,1.040)" font-size="18.00" font-weight="bold" fill="#000" stroke="#000" stroke-width="0.3">2000</text>
<line x1="478.8" y1="708.9" x2="487.3" y2="708.9" stroke="#000" stroke-width="1.8" stroke-linecap="butt"/>
<text transform="translate(435.3,715.34) scale(1.0000,1.040)" font-size="18.00" font-weight="bold" fill="#000" stroke="#000" stroke-width="0.3">1000</text>
<line x1="478.8" y1="746.6" x2="487.3" y2="746.6" stroke="#000" stroke-width="1.8" stroke-linecap="butt"/>
<text transform="translate(465.33,753.04) scale(1.0000,1.040)" font-size="18.00" font-weight="bold" fill="#000" stroke="#000" stroke-width="0.3">0</text>
<text transform="translate(426,722.63) rotate(-90) scale(1.0000,1.000)" font-size="17.73" font-weight="bold" fill="#000" stroke="#000" stroke-width="0.3">CD4+CD25+ cells</text>
<line x1="514.4" y1="746.6" x2="514.4" y2="754" stroke="#000" stroke-width="1.6" stroke-linecap="butt"/>
<rect x="502.6" y="705.6" width="23.6" height="41" fill="#ffffff" stroke="#000" stroke-width="2.6"/>
<line x1="555.6" y1="746.6" x2="555.6" y2="754" stroke="#000" stroke-width="1.6" stroke-linecap="butt"/>
<rect x="543.8" y="661" width="23.6" height="85.6" fill="#b0b0b3" stroke="#000" stroke-width="2.6"/>
<line x1="596.8" y1="746.6" x2="596.8" y2="754" stroke="#000" stroke-width="1.6" stroke-linecap="butt"/>
<rect x="585" y="669.2" width="23.6" height="77.4" fill="#2a1ef8" stroke="#000" stroke-width="2.6"/>
<line x1="637.9" y1="746.6" x2="637.9" y2="754" stroke="#000" stroke-width="1.6" stroke-linecap="butt"/>
<rect x="626.1" y="684.8" width="23.6" height="61.8" fill="#fb2c12" stroke="#000" stroke-width="2.6"/>
<line x1="514.4" y1="701.5" x2="514.4" y2="709" stroke="#111" stroke-width="1.3" stroke-linecap="butt"/>
<line x1="507.9" y1="701.5" x2="520.9" y2="701.5" stroke="#111" stroke-width="1.3" stroke-linecap="butt"/>
<line x1="507.9" y1="709" x2="520.9" y2="709" stroke="#111" stroke-width="1.3" stroke-linecap="butt"/>
<line x1="555.6" y1="654.5" x2="555.6" y2="663" stroke="#111" stroke-width="1.3" stroke-linecap="butt"/>
<line x1="549.1" y1="654.5" x2="562.1" y2="654.5" stroke="#111" stroke-width="1.3" stroke-linecap="butt"/>
<line x1="549.1" y1="663" x2="562.1" y2="663" stroke="#111" stroke-width="1.3" stroke-linecap="butt"/>
<line x1="596.8" y1="643.4" x2="596.8" y2="691.7" stroke="#111" stroke-width="1.3" stroke-linecap="butt"/>
<line x1="590.3" y1="643.4" x2="603.3" y2="643.4" stroke="#111" stroke-width="1.3" stroke-linecap="butt"/>
<line x1="590.3" y1="691.7" x2="603.3" y2="691.7" stroke="#111" stroke-width="1.3" stroke-linecap="butt"/>
<line x1="637.9" y1="676.8" x2="637.9" y2="687.9" stroke="#111" stroke-width="1.3" stroke-linecap="butt"/>
<line x1="631.4" y1="676.8" x2="644.4" y2="676.8" stroke="#111" stroke-width="1.3" stroke-linecap="butt"/>
<line x1="631.4" y1="687.9" x2="644.4" y2="687.9" stroke="#111" stroke-width="1.3" stroke-linecap="butt"/>
<circle cx="504.4" cy="714.4" r="3.8" fill="#000"/>
<circle cx="514.1" cy="698.9" r="3.8" fill="#000"/>
<circle cx="524.5" cy="694" r="3.8" fill="#000"/>
<circle cx="514.7" cy="706.9" r="3.8" fill="#000"/>
<circle cx="524.5" cy="704.9" r="3.8" fill="#000"/>
<circle cx="524.5" cy="711.3" r="3.8" fill="#000"/>
<circle cx="545.6" cy="649" r="3.8" fill="#000"/>
<circle cx="565.6" cy="644.5" r="3.8" fill="#000"/>
<circle cx="565.6" cy="654.1" r="3.8" fill="#000"/>
<circle cx="545.1" cy="661.9" r="3.8" fill="#000"/>
<circle cx="565.2" cy="666.1" r="3.8" fill="#000"/>
<circle cx="555.6" cy="679" r="3.8" fill="#000"/>
<circle cx="596.9" cy="589" r="3.8" fill="#000"/>
<circle cx="596.9" cy="606" r="3.8" fill="#000"/>
<circle cx="596.6" cy="660.8" r="3.8" fill="#000"/>
<circle cx="596.6" cy="703.5" r="3.8" fill="#000"/>
<circle cx="586.8" cy="723.5" r="3.8" fill="#000"/>
<circle cx="606.3" cy="723.5" r="3.8" fill="#000"/>
<circle cx="627.9" cy="666.8" r="3.8" fill="#000"/>
<circle cx="648" cy="663" r="3.8" fill="#000"/>
<circle cx="648" cy="682.3" r="3.8" fill="#000"/>
<circle cx="627.9" cy="685.7" r="3.8" fill="#000"/>
<circle cx="648" cy="695" r="3.8" fill="#000"/>
<circle cx="627.9" cy="700.1" r="3.8" fill="#000"/>
<polyline points="555.7,495.2 555.7,484.8 637.8,484.8 637.8,652.8" fill="none" stroke="#000" stroke-width="2.0" stroke-linejoin="miter"/>
<polyline points="555.7,536.5 555.7,525.5 596.4,525.5 596.4,578" fill="none" stroke="#000" stroke-width="2.0" stroke-linejoin="miter"/>
<polyline points="515,683 515,566.7 555.6,566.7 555.6,634.3" fill="none" stroke="#000" stroke-width="2.0" stroke-linejoin="miter"/>
<text transform="translate(559.14,474.9) scale(1.0000,1.040)" font-size="15.37" font-weight="normal" fill="#000" stroke="#000" stroke-width="0.2">P = 0.0459</text>
<text transform="translate(539.79,515.5) scale(1.0000,1.040)" font-size="14.70" font-weight="normal" fill="#000" stroke="#000" stroke-width="0.2">P = 0.9811</text>
<text transform="translate(497.13,556.7) scale(1.0000,1.040)" font-size="15.42" font-weight="normal" fill="#000" stroke="#000" stroke-width="0.2">P = 0.0002</text>
<text transform="translate(368.08,774.1) scale(1.0000,1.040)" font-size="15.14" font-weight="bold" fill="#000" stroke="#000" stroke-width="0.3">CCL1</text>
<text transform="translate(368.06,811.8) scale(1.0000,1.040)" font-size="15.68" font-weight="bold" fill="#000" stroke="#000" stroke-width="0.3">Control IgG</text>
<text transform="translate(368.31,849.5) scale(1.0000,1.040)" font-size="15.50" font-weight="bold" fill="#000" stroke="#000" stroke-width="0.3">Anti-CCR8 IgG</text>
<rect x="510.5" y="769.05" width="5" height="2.3" fill="#000" stroke="none" stroke-width="0"/>
<rect x="548.2" y="769.15" width="8.8" height="2.1" fill="#000" stroke="none" stroke-width="0"/>
<rect x="551.55" y="765.8" width="2.1" height="8.8" fill="#000" stroke="none" stroke-width="0"/>
<rect x="591.6" y="769.15" width="8.8" height="2.1" fill="#000" stroke="none" stroke-width="0"/>
<rect x="594.95" y="765.8" width="2.1" height="8.8" fill="#000" stroke="none" stroke-width="0"/>
<rect x="634.3" y="769.15" width="8.8" height="2.1" fill="#000" stroke="none" stroke-width="0"/>
<rect x="637.65" y="765.8" width="2.1" height="8.8" fill="#000" stroke="none" stroke-width="0"/>
<rect x="510.5" y="805.85" width="5" height="2.3" fill="#000" stroke="none" stroke-width="0"/>
<rect x="550.1" y="805.85" width="5" height="2.3" fill="#000" stroke="none" stroke-width="0"/>
<rect x="591.6" y="805.95" width="8.8" height="2.1" fill="#000" stroke="none" stroke-width="0"/>
<rect x="594.95" y="802.6" width="2.1" height="8.8" fill="#000" stroke="none" stroke-width="0"/>
<rect x="636.2" y="805.85" width="5" height="2.3" fill="#000" stroke="none" stroke-width="0"/>
<rect x="510.5" y="843.65" width="5" height="2.3" fill="#000" stroke="none" stroke-width="0"/>
<rect x="550.1" y="843.65" width="5" height="2.3" fill="#000" stroke="none" stroke-width="0"/>
<rect x="593.5" y="843.65" width="5" height="2.3" fill="#000" stroke="none" stroke-width="0"/>
<rect x="634.3" y="843.75" width="8.8" height="2.1" fill="#000" stroke="none" stroke-width="0"/>
<rect x="637.65" y="840.4" width="2.1" height="8.8" fill="#000" stroke="none" stroke-width="0"/>
<rect x="331" y="852.3" width="8" height="1.2" fill="#d5f5fc" stroke="none" stroke-width="0"/>
<rect x="342.2" y="850.8" width="3" height="1.4" fill="#9a9ac4" stroke="none" stroke-width="0"/>
<rect x="347.4" y="850.8" width="3.6" height="1.4" fill="#9a9ac4" stroke="none" stroke-width="0"/>
<rect x="351.5" y="850.9" width="12" height="1.1" fill="#b8f0fb" stroke="none" stroke-width="0"/>
<rect x="368" y="850.7" width="16" height="1.8" fill="#a6ebf9" stroke="none" stroke-width="0"/>
<rect x="227.2" y="850.4" width="1.6" height="1.4" fill="#8c7cf0" stroke="none" stroke-width="0"/>
<rect x="242.2" y="850.6" width="1.4" height="1.6" fill="#e8a0e8" stroke="none" stroke-width="0"/>
<rect x="433.6" y="850.6" width="1.6" height="1.4" fill="#8ca0e8" stroke="none" stroke-width="0"/>
<rect x="634.5" y="851" width="1.5" height="1.4" fill="#b0e8f4" stroke="none" stroke-width="0"/>
</svg>
</body></html>
